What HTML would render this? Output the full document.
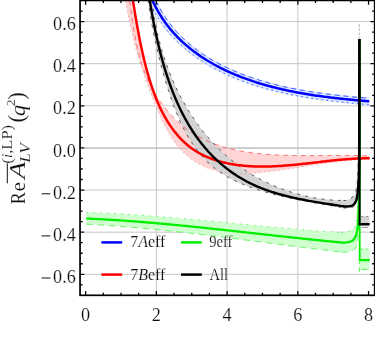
<!DOCTYPE html>
<html><head><meta charset="utf-8"><title>plot</title>
<style>
html,body{margin:0;padding:0;background:#fff;}
body{width:375px;height:360px;overflow:hidden;font-family:"Liberation Serif",serif;}
svg{display:block;will-change:transform;}
text{font-family:"Liberation Serif",serif;fill:#111;stroke:#fff;stroke-width:0.14px;}
</style></head><body>
<svg width="375" height="360" viewBox="0 0 375 360">
<defs><clipPath id="plot"><rect x="80.05" y="0.40" width="294.65" height="294.90"/></clipPath></defs>
<rect x="0" y="0" width="375" height="360" fill="#fff"/>
<line x1="156.37" y1="4.90" x2="156.37" y2="290.80" stroke="#c6c6c6" stroke-width="1"/>
<line x1="227.10" y1="4.90" x2="227.10" y2="290.80" stroke="#c6c6c6" stroke-width="1"/>
<line x1="297.83" y1="4.90" x2="297.83" y2="290.80" stroke="#c6c6c6" stroke-width="1"/>
<line x1="84.55" y1="274.30" x2="370.20" y2="274.30" stroke="#c6c6c6" stroke-width="1"/>
<line x1="84.55" y1="232.18" x2="370.20" y2="232.18" stroke="#c6c6c6" stroke-width="1"/>
<line x1="84.55" y1="190.05" x2="370.20" y2="190.05" stroke="#c6c6c6" stroke-width="1"/>
<line x1="84.55" y1="147.93" x2="370.20" y2="147.93" stroke="#c6c6c6" stroke-width="1"/>
<line x1="84.55" y1="105.81" x2="370.20" y2="105.81" stroke="#c6c6c6" stroke-width="1"/>
<line x1="84.55" y1="63.68" x2="370.20" y2="63.68" stroke="#c6c6c6" stroke-width="1"/>
<line x1="84.55" y1="21.56" x2="370.20" y2="21.56" stroke="#c6c6c6" stroke-width="1"/>
<g clip-path="url(#plot)" fill="none" stroke-linejoin="round" stroke-linecap="butt">
<path d="M86.25 212.41 L87.77 212.45 L89.29 212.50 L90.80 212.54 L92.32 212.59 L93.83 212.65 L95.35 212.70 L96.87 212.76 L98.38 212.82 L99.90 212.88 L101.41 212.94 L102.93 213.00 L104.44 213.07 L105.96 213.14 L107.47 213.21 L108.99 213.28 L110.50 213.35 L112.02 213.43 L113.53 213.50 L115.05 213.58 L116.56 213.66 L118.08 213.74 L119.59 213.83 L121.11 213.91 L122.62 214.00 L124.14 214.09 L125.65 214.18 L127.16 214.27 L128.68 214.36 L130.19 214.45 L131.71 214.55 L133.22 214.65 L134.73 214.75 L136.25 214.85 L137.76 214.95 L139.27 215.05 L140.79 215.16 L142.30 215.26 L143.81 215.37 L145.33 215.48 L146.84 215.59 L148.35 215.70 L149.86 215.81 L151.38 215.92 L152.89 216.04 L154.40 216.15 L155.91 216.27 L157.43 216.39 L158.94 216.51 L160.45 216.63 L161.96 216.75 L163.48 216.87 L164.99 216.99 L166.50 217.12 L168.01 217.24 L169.52 217.37 L171.03 217.50 L172.55 217.63 L174.06 217.75 L175.57 217.88 L177.08 218.01 L178.59 218.15 L180.10 218.28 L181.61 218.41 L183.12 218.55 L184.63 218.68 L186.15 218.81 L187.66 218.95 L189.17 219.09 L190.68 219.22 L192.19 219.36 L193.70 219.50 L195.21 219.64 L196.72 219.78 L198.23 219.92 L199.74 220.06 L201.25 220.20 L202.76 220.34 L204.27 220.49 L205.78 220.63 L207.29 220.77 L208.80 220.91 L210.31 221.06 L211.82 221.20 L213.33 221.35 L214.84 221.49 L216.35 221.64 L217.86 221.78 L219.37 221.93 L220.88 222.07 L222.39 222.22 L223.90 222.37 L225.41 222.51 L226.92 222.66 L228.43 222.81 L229.94 222.95 L231.45 223.10 L232.96 223.25 L234.47 223.39 L235.98 223.54 L237.49 223.69 L239.00 223.83 L240.51 223.98 L242.02 224.13 L243.53 224.27 L245.04 224.42 L246.55 224.57 L248.06 224.71 L249.57 224.86 L251.08 225.00 L252.59 225.15 L254.10 225.30 L255.61 225.44 L257.12 225.59 L258.63 225.73 L260.14 225.87 L261.65 226.02 L263.16 226.16 L264.67 226.31 L266.18 226.45 L267.69 226.59 L269.20 226.73 L270.71 226.87 L272.22 227.01 L273.73 227.15 L275.24 227.29 L276.75 227.43 L278.26 227.57 L279.77 227.71 L281.28 227.85 L282.79 227.98 L284.30 228.12 L285.81 228.26 L287.32 228.39 L288.83 228.53 L290.34 228.66 L291.86 228.79 L293.37 228.92 L294.88 229.05 L296.39 229.18 L297.90 229.31 L299.41 229.44 L300.92 229.57 L302.44 229.69 L303.95 229.82 L305.46 229.94 L306.97 230.07 L308.48 230.19 L309.99 230.31 L311.51 230.43 L313.02 230.55 L314.53 230.67 L316.04 230.79 L317.56 230.90 L319.07 231.02 L320.58 231.13 L322.09 231.24 L323.61 231.36 L325.12 231.47 L326.63 231.57 L328.14 231.68 L329.66 231.79 L331.17 231.89 L332.68 232.00 L334.20 232.10 L335.71 232.20 L337.23 232.30 L338.74 232.40 L340.25 232.49 L341.77 232.59 L343.28 232.68 L341.76 232.64 L343.25 232.68 L344.73 232.57 L346.22 232.27 L347.68 231.83 L349.11 231.33 L350.50 230.80 L351.87 230.08 L352.95 229.16 L353.93 228.01 L354.80 226.69 L355.47 225.28 L355.87 223.88 L356.12 222.44 L356.31 220.94 L356.46 219.41 L356.61 217.91 L356.75 216.41 L356.88 214.92 L357.00 213.43 L357.12 211.93 L357.23 210.43 L357.33 208.94 L357.44 207.44 L357.54 205.94 L357.64 204.45 L357.74 202.95 L357.85 201.45 L357.95 199.96 L358.06 198.46 L358.16 196.96 L358.25 195.46 L358.33 193.97 L358.41 192.47 L358.47 190.97 L358.52 189.47 L358.56 187.97 L358.60 186.47 L358.64 184.98 L358.68 183.48 L358.72 181.98 L358.76 180.48 L358.80 178.98 L358.84 177.48 L358.87 175.98 L358.91 174.48 L358.94 172.98 L358.97 171.48 L359.00 169.98 L359.03 168.48 L359.05 166.98 L359.08 165.48 L359.10 163.98 L359.12 162.48 L359.14 160.98 L359.15 159.48 L359.17 157.98 L359.18 156.48 L359.19 154.98 L359.19 153.48 L359.20 151.98 L359.20 150.48 L359.20 148.98 L359.20 147.48 L359.20 145.98 L359.20 144.48 L359.20 142.98 L359.20 141.48 L359.20 139.98 L359.20 138.48 L359.20 136.98 L359.20 135.48 L359.20 133.98 L359.20 132.48 L359.20 130.98 L359.20 129.48 L359.20 127.98 L359.20 126.48 L359.20 124.98 L359.20 123.48 L359.20 121.98 L359.20 120.48 L359.20 118.98 L359.20 117.48 L359.20 115.98 L359.20 114.48 L359.20 112.98 L359.20 111.48 L359.20 109.98 L359.20 108.48 L359.20 106.98 L359.20 105.48 L359.20 103.98 L359.20 102.48 L359.20 100.98 L359.20 99.48 L359.20 97.98 L359.20 96.48 L359.20 94.98 L359.20 93.48 L359.20 91.98 L359.20 90.48 L359.20 88.98 L359.20 87.48 L359.20 85.98 L359.20 84.48 L359.20 82.98 L359.20 81.48 L359.20 79.98 L359.20 78.48 L359.20 76.98 L359.20 75.48 L359.20 73.98 L359.20 72.48 L359.20 70.98 L359.20 69.48 L359.20 67.98 L359.20 66.48 L359.20 64.98 L359.20 63.48 L359.20 61.98 L359.20 60.48 L359.20 58.98 L359.20 57.48 L359.20 55.98 L359.20 54.48 L359.20 52.98 L359.20 51.48 L359.20 49.98 L359.20 48.48 L359.20 46.98 L359.20 45.48 L359.20 43.98 L359.20 42.48 L359.20 40.98 L359.20 39.48 L359.20 39.00 L359.60 39.00 L359.60 39.78 L359.60 41.29 L359.60 42.79 L359.60 44.29 L359.60 45.79 L359.60 47.29 L359.60 48.79 L359.60 50.29 L359.60 51.79 L359.60 53.29 L359.60 54.79 L359.60 56.29 L359.60 57.79 L359.60 59.29 L359.60 60.79 L359.60 62.29 L359.60 63.79 L359.60 65.29 L359.60 66.79 L359.60 68.29 L359.60 69.79 L359.60 71.29 L359.60 72.79 L359.60 74.29 L359.60 75.79 L359.60 77.29 L359.60 78.79 L359.59 80.29 L359.59 81.79 L359.59 83.29 L359.59 84.79 L359.59 86.29 L359.59 87.79 L359.59 89.29 L359.59 90.79 L359.59 92.29 L359.59 93.79 L359.59 95.29 L359.59 96.79 L359.59 98.29 L359.59 99.79 L359.59 101.29 L359.59 102.79 L359.59 104.29 L359.59 105.79 L359.58 107.29 L359.58 108.79 L359.58 110.29 L359.58 111.79 L359.58 113.29 L359.58 114.79 L359.58 116.29 L359.58 117.79 L359.58 119.29 L359.58 120.79 L359.58 122.29 L359.57 123.79 L359.57 125.29 L359.57 126.79 L359.57 128.29 L359.57 129.79 L359.57 131.29 L359.57 132.79 L359.57 134.29 L359.57 135.79 L359.56 137.29 L359.56 138.79 L359.56 140.29 L359.56 141.79 L359.56 143.29 L359.56 144.79 L359.56 146.29 L359.55 147.79 L359.55 149.29 L359.55 150.79 L359.55 152.29 L359.55 153.79 L359.55 155.29 L359.54 156.79 L359.54 158.29 L359.54 159.79 L359.54 161.29 L359.54 162.79 L359.54 164.29 L359.53 165.79 L359.53 167.29 L359.53 168.79 L359.53 170.29 L359.53 171.79 L359.52 173.29 L359.52 174.79 L359.52 176.29 L359.52 177.79 L359.52 179.29 L359.51 180.79 L359.51 182.29 L359.51 183.79 L359.51 185.29 L359.51 186.79 L359.50 188.29 L359.50 189.78 L359.50 191.28 L359.49 192.78 L359.48 194.28 L359.47 195.78 L359.46 197.29 L359.44 198.79 L359.42 200.29 L359.40 201.79 L359.38 203.29 L359.35 204.79 L359.32 206.29 L359.29 207.79 L359.26 209.29 L359.23 210.79 L359.20 212.29 L359.16 213.78 L359.12 215.28 L359.09 216.78 L359.05 218.28 L359.01 219.78 L358.96 221.28 L358.91 222.78 L358.84 224.28 L358.77 225.78 L358.68 227.28 L358.59 228.77 L358.49 230.27 L358.39 231.77 L358.28 233.26 L358.16 234.76 L358.02 236.26 L357.87 237.75 L357.69 239.24 L357.49 240.73 L357.27 242.20 L357.00 243.73 L356.66 245.26 L356.22 246.70 L355.66 247.94 L354.71 249.10 L353.45 250.09 L352.13 250.75 L350.67 251.16 L349.20 251.47 L347.72 251.77 L346.23 252.04 L344.74 252.23 L343.25 252.30 L341.76 252.20 L343.28 252.30 L341.77 252.13 L340.27 251.95 L338.77 251.78 L337.27 251.60 L335.76 251.43 L334.26 251.25 L332.76 251.07 L331.26 250.89 L329.76 250.72 L328.25 250.54 L326.75 250.35 L325.25 250.17 L323.75 249.99 L322.25 249.81 L320.75 249.63 L319.25 249.44 L317.75 249.26 L316.24 249.07 L314.74 248.89 L313.24 248.70 L311.74 248.52 L310.24 248.33 L308.74 248.14 L307.24 247.95 L305.74 247.76 L304.24 247.58 L302.74 247.39 L301.24 247.20 L299.74 247.01 L298.24 246.82 L296.74 246.62 L295.24 246.43 L293.74 246.24 L292.24 246.05 L290.74 245.86 L289.24 245.67 L287.74 245.47 L286.24 245.28 L284.74 245.09 L283.24 244.89 L281.74 244.70 L280.24 244.51 L278.74 244.31 L277.24 244.12 L275.74 243.92 L274.24 243.73 L272.74 243.54 L271.24 243.34 L269.74 243.15 L268.24 242.95 L266.74 242.76 L265.24 242.56 L263.74 242.37 L262.24 242.17 L260.74 241.98 L259.24 241.79 L257.74 241.59 L256.24 241.40 L254.74 241.20 L253.24 241.01 L251.74 240.82 L250.24 240.62 L248.74 240.43 L247.24 240.23 L245.74 240.04 L244.24 239.85 L242.74 239.66 L241.24 239.46 L239.74 239.27 L238.24 239.08 L236.74 238.89 L235.24 238.70 L233.74 238.51 L232.24 238.32 L230.74 238.13 L229.24 237.94 L227.73 237.75 L226.23 237.56 L224.73 237.37 L223.23 237.18 L221.73 236.99 L220.23 236.81 L218.73 236.62 L217.23 236.44 L215.73 236.25 L214.23 236.07 L212.73 235.88 L211.23 235.70 L209.72 235.51 L208.22 235.33 L206.72 235.15 L205.22 234.97 L203.72 234.79 L202.22 234.61 L200.71 234.43 L199.21 234.25 L197.71 234.08 L196.21 233.90 L194.71 233.72 L193.20 233.55 L191.70 233.37 L190.20 233.20 L188.70 233.03 L187.19 232.86 L185.69 232.68 L184.19 232.51 L182.69 232.35 L181.18 232.18 L179.68 232.01 L178.18 231.84 L176.67 231.68 L175.17 231.51 L173.67 231.35 L172.16 231.19 L170.66 231.03 L169.16 230.87 L167.65 230.71 L166.15 230.55 L164.64 230.39 L163.14 230.24 L161.63 230.08 L160.13 229.93 L158.62 229.78 L157.12 229.63 L155.61 229.48 L154.11 229.33 L152.60 229.18 L151.10 229.04 L149.59 228.89 L148.09 228.75 L146.58 228.61 L145.08 228.47 L143.57 228.33 L142.06 228.19 L140.56 228.05 L139.05 227.92 L137.55 227.78 L136.04 227.65 L134.53 227.52 L133.03 227.39 L131.52 227.26 L130.01 227.14 L128.50 227.01 L127.00 226.89 L125.49 226.77 L123.98 226.65 L122.47 226.53 L120.97 226.41 L119.46 226.30 L117.95 226.18 L116.44 226.07 L114.93 225.96 L113.42 225.85 L111.92 225.74 L110.41 225.64 L108.90 225.53 L107.39 225.43 L105.88 225.33 L104.37 225.24 L102.86 225.14 L101.35 225.04 L99.84 224.95 L98.33 224.86 L96.82 224.77 L95.31 224.68 L93.80 224.60 L92.29 224.52 L90.78 224.44 L89.27 224.36 L87.76 224.28 L86.25 224.20Z" fill="#d0ffd0" stroke="none"/>
<rect x="359.3" y="248.5" width="10.3" height="21.7" fill="#d0ffd0"/>
<path d="M124.00 -8.00 L124.80 -8.00 L125.60 -8.00 L126.40 -8.00 L127.20 -8.00 L128.00 -8.00 L128.80 -8.00 L129.60 -8.00 L130.40 -8.00 L131.20 -8.00 L132.00 -5.52 L132.80 -0.48 L133.60 4.54 L134.40 9.49 L135.20 14.37 L136.00 19.14 L136.80 23.78 L137.60 28.29 L138.40 32.65 L139.20 36.87 L140.00 40.94 L140.80 44.86 L141.60 48.64 L142.40 52.28 L143.20 55.78 L144.00 59.16 L144.80 62.42 L145.60 65.56 L146.40 68.60 L147.20 71.54 L148.00 74.38 L148.80 77.13 L149.60 79.79 L150.40 82.38 L151.20 84.88 L152.00 87.30 L152.80 89.63 L153.60 91.05 L154.40 92.43 L155.20 93.78 L156.00 95.09 L156.80 96.36 L157.60 97.61 L158.40 98.83 L159.20 100.01 L160.00 101.17 L160.80 102.31 L161.60 103.41 L162.40 104.50 L163.20 105.56 L164.00 106.60 L164.80 107.61 L165.60 108.61 L166.40 109.59 L167.20 110.54 L168.00 111.48 L168.80 112.40 L169.60 113.30 L170.40 114.18 L171.20 115.05 L172.00 115.90 L172.80 116.73 L173.60 117.55 L174.40 118.35 L175.20 119.14 L176.00 119.91 L176.80 120.67 L177.60 121.41 L178.40 122.14 L179.20 122.86 L180.00 123.57 L180.80 124.26 L181.60 124.93 L182.40 125.60 L183.20 126.25 L184.00 126.89 L184.80 127.53 L185.60 128.14 L186.40 128.75 L187.20 129.35 L188.00 129.93 L188.80 130.50 L189.60 131.07 L190.40 131.62 L191.20 132.16 L192.00 132.69 L192.80 133.21 L193.60 133.72 L194.40 134.22 L195.20 134.71 L196.00 135.20 L196.80 135.67 L197.60 136.13 L198.40 136.58 L199.20 137.03 L200.00 137.47 L200.80 137.89 L201.60 138.31 L202.40 138.72 L203.20 139.12 L204.00 139.51 L204.80 139.89 L205.60 140.27 L206.40 140.64 L207.20 141.00 L208.00 141.35 L208.80 141.70 L209.60 142.04 L210.40 142.37 L211.20 142.69 L212.00 143.01 L212.80 143.32 L213.60 143.63 L214.40 143.93 L215.20 144.22 L216.00 144.51 L216.80 144.79 L217.60 145.07 L218.40 145.34 L219.20 145.61 L220.00 145.86 L220.80 146.12 L221.60 146.37 L222.40 146.61 L223.20 146.85 L224.00 147.08 L224.80 147.31 L225.60 147.54 L226.40 147.76 L227.20 147.97 L228.00 148.18 L228.80 148.39 L229.60 148.59 L230.40 148.79 L231.20 148.98 L232.00 149.17 L232.80 149.35 L233.60 149.53 L234.40 149.71 L235.20 149.88 L236.00 150.05 L236.80 150.22 L237.60 150.38 L238.40 150.54 L239.20 150.69 L240.00 150.85 L240.80 150.99 L241.60 151.14 L242.40 151.28 L243.20 151.42 L244.00 151.55 L244.80 151.68 L245.60 151.81 L246.40 151.94 L247.20 152.06 L248.00 152.18 L248.80 152.30 L249.60 152.41 L250.40 152.52 L251.20 152.63 L252.00 152.74 L252.80 152.84 L253.60 152.94 L254.40 153.04 L255.20 153.13 L256.00 153.23 L256.80 153.32 L257.60 153.40 L258.40 153.49 L259.20 153.57 L260.00 153.65 L260.80 153.73 L261.60 153.81 L262.40 153.88 L263.20 153.96 L264.00 154.03 L264.80 154.09 L265.60 154.16 L266.40 154.22 L267.20 154.29 L268.00 154.35 L268.80 154.41 L269.60 154.46 L270.40 154.52 L271.20 154.57 L272.00 154.62 L272.80 154.67 L273.60 154.72 L274.40 154.77 L275.20 154.81 L276.00 154.86 L276.80 154.90 L277.60 154.94 L278.40 154.98 L279.20 155.01 L280.00 155.05 L280.80 155.08 L281.60 155.12 L282.40 155.15 L283.20 155.18 L284.00 155.21 L284.80 155.24 L285.60 155.26 L286.40 155.29 L287.20 155.31 L288.00 155.34 L288.80 155.36 L289.60 155.38 L290.40 155.40 L291.20 155.42 L292.00 155.43 L292.80 155.45 L293.60 155.47 L294.40 155.48 L295.20 155.49 L296.00 155.51 L296.80 155.52 L297.60 155.53 L298.40 155.54 L299.20 155.55 L300.00 155.55 L300.80 155.56 L301.60 155.57 L302.40 155.57 L303.20 155.58 L304.00 155.58 L304.80 155.58 L305.60 155.59 L306.40 155.59 L307.20 155.59 L308.00 155.59 L308.80 155.59 L309.60 155.59 L310.40 155.59 L311.20 155.59 L312.00 155.59 L312.80 155.58 L313.60 155.58 L314.40 155.58 L315.20 155.58 L316.00 155.57 L316.80 155.57 L317.60 155.56 L318.40 155.56 L319.20 155.55 L320.00 155.55 L320.80 155.54 L321.60 155.54 L322.40 155.53 L323.20 155.53 L324.00 155.52 L324.80 155.52 L325.60 155.51 L326.40 155.51 L327.20 155.50 L328.00 155.49 L328.80 155.49 L329.60 155.48 L330.40 155.48 L331.20 155.47 L332.00 155.47 L332.80 155.46 L333.60 155.46 L334.40 155.46 L335.20 155.45 L336.00 155.45 L336.80 155.45 L337.60 155.44 L338.40 155.44 L339.20 155.44 L340.00 155.44 L340.80 155.44 L341.60 155.44 L342.40 155.44 L343.20 155.44 L344.00 155.44 L344.80 155.44 L345.60 155.44 L346.40 155.45 L347.20 155.45 L348.00 155.46 L348.80 155.46 L349.60 155.47 L350.40 155.48 L351.20 155.48 L352.00 155.49 L352.80 155.50 L353.60 155.51 L354.40 155.52 L355.20 155.54 L356.00 155.55 L356.80 155.56 L357.60 155.58 L358.40 155.60 L359.20 155.61 L360.00 155.63 L360.80 155.65 L361.60 155.67 L362.40 155.69 L363.20 155.72 L364.00 155.74 L364.80 155.77 L365.60 155.80 L366.40 155.82 L367.20 155.85 L368.00 155.88 L368.80 155.92 L369.60 155.95 L369.60 158.98 L368.80 159.01 L368.00 159.04 L367.20 159.07 L366.40 159.11 L365.60 159.15 L364.80 159.19 L364.00 159.23 L363.20 159.27 L362.40 159.32 L361.60 159.37 L360.80 159.42 L360.00 159.47 L359.20 159.53 L358.40 159.58 L357.60 159.64 L356.80 159.70 L356.00 159.76 L355.20 159.83 L354.40 159.89 L353.60 159.96 L352.80 160.03 L352.00 160.10 L351.20 160.17 L350.40 160.25 L349.60 160.32 L348.80 160.40 L348.00 160.48 L347.20 160.56 L346.40 160.64 L345.60 160.72 L344.80 160.81 L344.00 160.90 L343.20 160.99 L342.40 161.07 L341.60 161.17 L340.80 161.26 L340.00 161.35 L339.20 161.45 L338.40 161.54 L337.60 161.64 L336.80 161.74 L336.00 161.84 L335.20 161.94 L334.40 162.04 L333.60 162.15 L332.80 162.25 L332.00 162.36 L331.20 162.46 L330.40 162.57 L329.60 162.68 L328.80 162.79 L328.00 162.90 L327.20 163.01 L326.40 163.12 L325.60 163.24 L324.80 163.35 L324.00 163.47 L323.20 163.58 L322.40 163.70 L321.60 163.82 L320.80 163.93 L320.00 164.05 L319.20 164.17 L318.40 164.29 L317.60 164.41 L316.80 164.53 L316.00 164.65 L315.20 164.77 L314.40 164.90 L313.60 165.02 L312.80 165.14 L312.00 165.26 L311.20 165.39 L310.40 165.51 L309.60 165.63 L308.80 165.76 L308.00 165.88 L307.20 166.01 L306.40 166.13 L305.60 166.26 L304.80 166.38 L304.00 166.51 L303.20 166.63 L302.40 166.76 L301.60 166.88 L300.80 167.01 L300.00 167.13 L299.20 167.25 L298.40 167.38 L297.60 167.50 L296.80 167.63 L296.00 167.75 L295.20 167.87 L294.40 168.00 L293.60 168.12 L292.80 168.24 L292.00 168.36 L291.20 168.48 L290.40 168.61 L289.60 168.73 L288.80 168.85 L288.00 168.97 L287.20 169.09 L286.40 169.20 L285.60 169.32 L284.80 169.44 L284.00 169.55 L283.20 169.67 L282.40 169.79 L281.60 169.90 L280.80 170.01 L280.00 170.13 L279.20 170.24 L278.40 170.35 L277.60 170.46 L276.80 170.57 L276.00 170.67 L275.20 170.78 L274.40 170.89 L273.60 170.99 L272.80 171.10 L272.00 171.20 L271.20 171.30 L270.40 171.40 L269.60 171.50 L268.80 171.60 L268.00 171.70 L267.20 171.79 L266.40 171.89 L265.60 171.98 L264.80 172.07 L264.00 172.16 L263.20 172.25 L262.40 172.34 L261.60 172.43 L260.80 172.51 L260.00 172.60 L259.20 172.68 L258.40 172.76 L257.60 172.84 L256.80 172.91 L256.00 172.99 L255.20 173.06 L254.40 173.12 L253.60 173.19 L252.80 173.25 L252.00 173.31 L251.20 173.37 L250.40 173.43 L249.60 173.48 L248.80 173.52 L248.00 173.57 L247.20 173.61 L246.40 173.65 L245.60 173.68 L244.80 173.71 L244.00 173.73 L243.20 173.75 L242.40 173.77 L241.60 173.78 L240.80 173.79 L240.00 173.79 L239.20 173.79 L238.40 173.78 L237.60 173.77 L236.80 173.75 L236.00 173.72 L235.20 173.69 L234.40 173.66 L233.60 173.61 L232.80 173.57 L232.00 173.51 L231.20 173.45 L230.40 173.38 L229.60 173.31 L228.80 173.23 L228.00 173.14 L227.20 173.04 L226.40 172.94 L225.60 172.83 L224.80 172.71 L224.00 172.58 L223.20 172.44 L222.40 172.30 L221.60 172.15 L220.80 171.99 L220.00 171.82 L219.20 171.64 L218.40 171.45 L217.60 171.25 L216.80 171.05 L216.00 170.84 L215.20 170.62 L214.40 170.38 L213.60 170.14 L212.80 169.89 L212.00 169.63 L211.20 169.36 L210.40 169.08 L209.60 168.79 L208.80 168.49 L208.00 168.19 L207.20 167.87 L206.40 167.54 L205.60 167.20 L204.80 166.84 L204.00 166.48 L203.20 166.11 L202.40 165.73 L201.60 165.33 L200.80 164.92 L200.00 164.50 L199.20 164.07 L198.40 163.62 L197.60 163.16 L196.80 162.69 L196.00 162.21 L195.20 161.71 L194.40 161.19 L193.60 160.66 L192.80 160.12 L192.00 159.56 L191.20 158.98 L190.40 158.39 L189.60 157.78 L188.80 157.15 L188.00 156.50 L187.20 155.84 L186.40 155.15 L185.60 154.44 L184.80 153.71 L184.00 152.96 L183.20 152.18 L182.40 151.37 L181.60 150.54 L180.80 149.69 L180.00 148.80 L179.20 147.89 L178.40 146.95 L177.60 145.98 L176.80 144.98 L176.00 143.94 L175.20 142.88 L174.40 141.78 L173.60 140.64 L172.80 139.48 L172.00 138.27 L171.20 137.03 L170.40 135.76 L169.60 134.44 L168.80 133.09 L168.00 131.70 L167.20 130.27 L166.40 128.80 L165.60 127.29 L164.80 125.74 L164.00 124.15 L163.20 122.52 L162.40 120.84 L161.60 119.14 L160.80 117.38 L160.00 115.60 L159.20 113.78 L158.40 111.92 L157.60 110.03 L156.80 108.11 L156.00 106.17 L155.20 104.20 L154.40 102.21 L153.60 100.21 L152.80 98.20 L152.00 96.17 L151.20 94.13 L150.40 92.07 L149.60 90.00 L148.80 87.90 L148.00 85.78 L147.20 83.63 L146.40 81.45 L145.60 79.24 L144.80 76.99 L144.00 74.70 L143.20 72.37 L142.40 69.98 L141.60 67.54 L140.80 65.04 L140.00 62.48 L139.20 59.85 L138.40 57.15 L137.60 54.39 L136.80 51.54 L136.00 48.62 L135.20 45.62 L134.40 42.53 L133.60 39.34 L132.80 36.05 L132.00 32.66 L131.20 29.16 L130.40 25.55 L129.60 21.81 L128.80 17.94 L128.00 13.93 L127.20 9.79 L126.40 5.49 L125.60 1.03 L124.80 -3.58 L124.00 -8.00Z" fill="#ffd4d4" stroke="none"/>
<path d="M153.40 -7.56 L153.94 -6.17 L154.48 -4.81 L155.05 -3.46 L155.62 -2.11 L156.22 -0.78 L156.83 0.55 L157.45 1.88 L158.09 3.19 L158.75 4.50 L159.42 5.80 L160.11 7.09 L160.82 8.37 L161.54 9.64 L162.27 10.91 L163.03 12.16 L163.79 13.41 L164.57 14.64 L165.37 15.87 L166.18 17.09 L167.01 18.29 L167.85 19.49 L168.71 20.68 L169.58 21.85 L170.46 23.02 L171.36 24.17 L172.28 25.32 L173.20 26.45 L174.14 27.58 L175.09 28.69 L176.06 29.79 L177.04 30.88 L178.03 31.96 L179.03 33.03 L180.05 34.09 L181.08 35.13 L182.12 36.17 L183.17 37.19 L184.23 38.20 L185.31 39.21 L186.39 40.20 L187.49 41.17 L188.60 42.14 L189.71 43.10 L190.84 44.04 L191.98 44.97 L193.12 45.90 L194.28 46.81 L195.44 47.71 L196.62 48.60 L197.80 49.47 L198.99 50.34 L200.19 51.19 L201.40 52.04 L202.62 52.87 L203.84 53.69 L205.08 54.51 L206.32 55.31 L207.56 56.10 L208.82 56.88 L210.08 57.65 L211.35 58.41 L212.62 59.15 L213.90 59.89 L215.19 60.62 L216.48 61.34 L217.78 62.05 L219.09 62.75 L220.40 63.43 L221.72 64.11 L223.04 64.78 L224.37 65.44 L225.70 66.09 L227.04 66.73 L228.38 67.36 L229.72 67.98 L231.08 68.59 L232.43 69.20 L233.79 69.79 L235.16 70.38 L236.53 70.96 L237.90 71.52 L239.27 72.08 L240.65 72.63 L242.04 73.18 L243.43 73.71 L244.82 74.24 L246.21 74.75 L247.61 75.26 L249.01 75.77 L250.41 76.26 L251.82 76.74 L253.23 77.22 L254.64 77.69 L256.06 78.16 L257.48 78.61 L258.90 79.06 L260.32 79.50 L261.75 79.93 L263.18 80.36 L264.61 80.78 L266.04 81.19 L267.48 81.59 L268.91 81.99 L270.35 82.38 L271.80 82.76 L273.24 83.14 L274.69 83.51 L276.13 83.88 L277.58 84.23 L279.03 84.59 L280.49 84.93 L281.94 85.27 L283.40 85.60 L284.86 85.93 L286.32 86.25 L287.78 86.57 L289.24 86.88 L290.71 87.18 L292.17 87.48 L293.64 87.77 L295.11 88.06 L296.58 88.34 L298.05 88.62 L299.52 88.89 L300.99 89.16 L302.47 89.42 L303.94 89.68 L305.42 89.93 L306.90 90.18 L308.37 90.42 L309.85 90.66 L311.33 90.89 L312.81 91.12 L314.30 91.35 L315.78 91.57 L317.26 91.79 L318.75 92.00 L320.23 92.21 L321.72 92.41 L323.21 92.62 L324.69 92.81 L326.18 93.01 L327.67 93.20 L329.16 93.39 L330.65 93.57 L332.14 93.75 L333.63 93.93 L335.13 94.10 L336.62 94.27 L338.11 94.44 L339.61 94.61 L341.10 94.77 L342.60 94.93 L344.09 95.09 L345.59 95.24 L347.08 95.39 L348.58 95.54 L350.08 95.69 L351.58 95.84 L353.07 95.98 L354.57 96.12 L356.07 96.26 L357.57 96.40 L359.07 96.53 L360.57 96.67 L362.07 96.80 L363.57 96.93 L365.07 97.06 L366.58 97.19 L368.08 97.32 L369.58 97.44 L368.90 105.52 L367.40 105.39 L365.89 105.26 L364.38 105.13 L362.87 105.00 L361.36 104.87 L359.85 104.74 L358.34 104.60 L356.84 104.46 L355.33 104.33 L353.82 104.19 L352.31 104.04 L350.80 103.90 L349.29 103.75 L347.78 103.60 L346.27 103.45 L344.76 103.30 L343.25 103.14 L341.74 102.98 L340.23 102.82 L338.72 102.66 L337.21 102.49 L335.71 102.32 L334.20 102.15 L332.69 101.97 L331.18 101.79 L329.67 101.61 L328.16 101.42 L326.65 101.23 L325.14 101.04 L323.64 100.84 L322.13 100.64 L320.62 100.44 L319.12 100.23 L317.61 100.02 L316.10 99.80 L314.60 99.58 L313.09 99.36 L311.58 99.13 L310.08 98.90 L308.58 98.66 L307.07 98.42 L305.57 98.17 L304.07 97.92 L302.56 97.66 L301.06 97.40 L299.56 97.13 L298.06 96.86 L296.56 96.58 L295.06 96.30 L293.56 96.01 L292.07 95.72 L290.57 95.42 L289.07 95.11 L287.58 94.80 L286.09 94.49 L284.59 94.17 L283.10 93.84 L281.61 93.50 L280.12 93.16 L278.63 92.81 L277.15 92.46 L275.66 92.10 L274.17 91.74 L272.69 91.36 L271.21 90.98 L269.73 90.60 L268.25 90.20 L266.77 89.80 L265.30 89.39 L263.83 88.98 L262.35 88.56 L260.88 88.13 L259.42 87.69 L257.95 87.24 L256.49 86.79 L255.02 86.33 L253.56 85.86 L252.11 85.39 L250.65 84.90 L249.20 84.41 L247.75 83.91 L246.30 83.40 L244.86 82.88 L243.41 82.36 L241.98 81.82 L240.54 81.28 L239.11 80.73 L237.67 80.17 L236.25 79.60 L234.82 79.02 L233.40 78.43 L231.99 77.83 L230.57 77.23 L229.16 76.61 L227.76 75.98 L226.36 75.35 L224.96 74.70 L223.56 74.05 L222.17 73.38 L220.79 72.71 L219.41 72.02 L218.03 71.33 L216.66 70.62 L215.30 69.90 L213.94 69.17 L212.58 68.44 L211.23 67.69 L209.89 66.93 L208.55 66.16 L207.22 65.37 L205.89 64.58 L204.57 63.77 L203.26 62.96 L201.95 62.13 L200.65 61.29 L199.36 60.44 L198.07 59.58 L196.80 58.70 L195.53 57.81 L194.26 56.91 L193.01 56.00 L191.76 55.08 L190.53 54.14 L189.30 53.19 L188.08 52.23 L186.87 51.26 L185.67 50.28 L184.48 49.28 L183.30 48.27 L182.13 47.24 L180.97 46.21 L179.82 45.16 L178.68 44.10 L177.55 43.03 L176.44 41.94 L175.33 40.84 L174.24 39.73 L173.16 38.61 L172.10 37.47 L171.04 36.33 L170.00 35.17 L168.97 33.99 L167.96 32.81 L166.96 31.61 L165.97 30.40 L165.00 29.18 L164.04 27.95 L163.10 26.71 L162.17 25.45 L161.26 24.19 L160.36 22.91 L159.47 21.62 L158.61 20.32 L157.76 19.01 L156.92 17.69 L156.10 16.36 L155.30 15.02 L154.51 13.67 L153.74 12.32 L152.99 10.95 L152.26 9.57 L151.54 8.18 L150.84 6.79 L150.15 5.38 L149.48 3.97 L148.83 2.55 L148.20 1.13 L147.58 -0.31 L146.99 -1.75 L146.40 -3.20 L145.85 -4.63Z" fill="#dbe7ff" stroke="none"/>
<path d="M151.36 -7.94 L151.47 -6.43 L151.58 -4.92 L151.71 -3.42 L151.84 -1.91 L151.99 -0.41 L152.14 1.10 L152.30 2.60 L152.47 4.10 L152.65 5.60 L152.83 7.10 L153.02 8.60 L153.23 10.10 L153.44 11.59 L153.66 13.09 L153.88 14.58 L154.12 16.07 L154.36 17.57 L154.61 19.06 L154.87 20.54 L155.14 22.03 L155.42 23.52 L155.70 25.00 L155.99 26.48 L156.29 27.96 L156.60 29.44 L156.92 30.92 L157.24 32.40 L157.58 33.87 L157.92 35.34 L158.27 36.81 L158.62 38.28 L158.99 39.74 L159.36 41.21 L159.75 42.67 L160.14 44.13 L160.53 45.59 L160.94 47.04 L161.36 48.50 L161.78 49.95 L162.21 51.40 L162.65 52.84 L163.09 54.28 L163.55 55.73 L164.01 57.16 L164.48 58.60 L164.96 60.03 L165.45 61.46 L165.95 62.89 L166.45 64.31 L166.96 65.73 L167.48 67.15 L168.01 68.57 L168.55 69.98 L169.10 71.39 L169.65 72.80 L170.21 74.20 L170.78 75.60 L171.36 76.99 L171.95 78.39 L172.54 79.78 L173.14 81.16 L173.76 82.54 L174.38 83.92 L175.00 85.29 L175.64 86.66 L176.29 88.03 L176.94 89.39 L177.60 90.75 L178.27 92.11 L178.95 93.46 L179.64 94.80 L180.33 96.14 L181.04 97.48 L181.75 98.81 L182.47 100.14 L183.20 101.46 L183.94 102.78 L184.69 104.09 L185.44 105.40 L186.21 106.71 L186.98 108.00 L187.76 109.30 L188.55 110.59 L189.35 111.87 L190.16 113.15 L190.97 114.42 L191.80 115.68 L192.63 116.94 L193.47 118.20 L194.32 119.45 L195.18 120.69 L196.05 121.93 L196.93 123.16 L197.81 124.38 L198.71 125.60 L199.61 126.81 L200.52 128.01 L201.44 129.21 L202.37 130.40 L203.31 131.59 L204.26 132.76 L205.21 133.93 L206.18 135.10 L207.15 136.25 L208.14 137.40 L209.13 138.54 L210.13 139.68 L211.13 140.80 L212.15 141.92 L213.18 143.03 L214.21 144.13 L215.26 145.22 L216.31 146.31 L217.37 147.38 L218.44 148.45 L219.51 149.51 L220.60 150.56 L221.70 151.60 L222.80 152.63 L223.91 153.65 L225.03 154.67 L226.16 155.67 L227.30 156.67 L228.44 157.65 L229.60 158.63 L230.76 159.59 L231.93 160.55 L233.11 161.49 L234.30 162.43 L235.49 163.35 L236.69 164.27 L237.91 165.17 L239.12 166.06 L240.35 166.95 L241.58 167.82 L242.83 168.68 L244.08 169.53 L245.33 170.37 L246.60 171.20 L247.87 172.02 L249.14 172.82 L250.43 173.62 L251.72 174.40 L253.02 175.18 L254.32 175.94 L255.63 176.69 L256.95 177.43 L258.27 178.16 L259.60 178.88 L260.93 179.59 L262.27 180.29 L263.62 180.97 L264.97 181.65 L266.33 182.31 L267.69 182.96 L269.06 183.60 L270.44 184.23 L271.81 184.85 L273.20 185.46 L274.59 186.05 L275.98 186.64 L277.38 187.21 L278.78 187.77 L280.19 188.32 L281.60 188.86 L283.02 189.38 L284.44 189.90 L285.86 190.40 L287.29 190.89 L288.73 191.37 L290.16 191.84 L291.60 192.29 L293.05 192.74 L294.50 193.17 L295.95 193.59 L297.40 194.00 L298.86 194.39 L300.32 194.78 L301.79 195.15 L303.25 195.51 L304.72 195.86 L306.20 196.19 L307.67 196.52 L309.15 196.83 L310.63 197.13 L312.12 197.41 L313.60 197.69 L315.09 197.95 L316.58 198.20 L318.07 198.43 L319.57 198.66 L321.06 198.87 L322.56 199.07 L324.06 199.25 L325.56 199.42 L327.06 199.58 L328.57 199.73 L330.07 199.87 L331.58 199.99 L333.09 200.09 L334.59 200.19 L336.10 200.27 L337.61 200.34 L339.12 200.40 L340.63 200.44 L342.14 200.47 L343.65 200.48 L345.16 200.49 L343.66 200.48 L345.14 200.49 L346.60 200.29 L348.05 199.77 L349.44 199.07 L350.74 198.33 L352.02 197.51 L353.22 196.50 L354.15 195.38 L354.80 194.13 L355.34 192.73 L355.80 191.24 L356.16 189.73 L356.43 188.26 L356.67 186.79 L356.89 185.31 L357.09 183.82 L357.26 182.32 L357.40 180.82 L357.52 179.32 L357.61 177.82 L357.69 176.32 L357.77 174.83 L357.84 173.33 L357.91 171.84 L357.98 170.34 L358.04 168.84 L358.10 167.34 L358.16 165.84 L358.21 164.34 L358.26 162.84 L358.30 161.34 L358.34 159.84 L358.38 158.34 L358.41 156.83 L358.44 155.33 L358.46 153.83 L358.48 152.33 L358.49 150.83 L358.50 149.33 L358.51 147.83 L358.52 146.33 L358.53 144.83 L358.54 143.33 L358.55 141.84 L358.55 140.34 L358.56 138.84 L358.57 137.34 L358.58 135.84 L358.59 134.34 L358.59 132.84 L358.60 131.34 L358.61 129.84 L358.61 128.34 L358.62 126.84 L358.63 125.34 L358.63 123.84 L358.64 122.34 L358.65 120.84 L358.65 119.34 L358.66 117.84 L358.66 116.34 L358.67 114.84 L358.68 113.34 L358.68 111.84 L358.69 110.34 L358.69 108.84 L358.70 107.34 L358.70 105.84 L358.71 104.34 L358.71 102.84 L358.71 101.34 L358.72 99.84 L358.72 98.34 L358.73 96.84 L358.73 95.34 L358.73 93.84 L358.74 92.34 L358.74 90.84 L358.75 89.34 L358.75 87.84 L358.75 86.34 L358.76 84.84 L358.76 83.34 L358.76 81.84 L358.76 80.34 L358.77 78.84 L358.77 77.34 L358.77 75.84 L358.77 74.34 L358.78 72.84 L358.78 71.34 L358.78 69.84 L358.78 68.34 L358.78 66.84 L358.79 65.34 L358.79 63.84 L358.79 62.34 L358.79 60.84 L358.79 59.34 L358.79 57.84 L358.79 56.34 L358.80 54.84 L358.80 53.34 L358.80 51.84 L358.80 50.34 L358.80 48.84 L358.80 47.34 L358.80 45.84 L358.80 44.34 L358.80 42.83 L358.80 41.33 L358.80 39.83 L358.80 39.00 L359.80 39.00 L359.80 39.69 L359.80 41.19 L359.80 42.69 L359.80 44.19 L359.80 45.69 L359.80 47.19 L359.80 48.69 L359.80 50.19 L359.80 51.69 L359.80 53.19 L359.80 54.69 L359.80 56.19 L359.80 57.69 L359.79 59.19 L359.79 60.69 L359.79 62.19 L359.79 63.69 L359.79 65.19 L359.79 66.69 L359.79 68.19 L359.79 69.69 L359.79 71.19 L359.78 72.69 L359.78 74.19 L359.78 75.69 L359.78 77.19 L359.78 78.69 L359.78 80.19 L359.77 81.69 L359.77 83.19 L359.77 84.69 L359.77 86.19 L359.77 87.69 L359.76 89.19 L359.76 90.69 L359.76 92.19 L359.76 93.69 L359.75 95.19 L359.75 96.69 L359.75 98.19 L359.74 99.69 L359.74 101.19 L359.74 102.69 L359.74 104.19 L359.73 105.69 L359.73 107.19 L359.73 108.69 L359.72 110.19 L359.72 111.69 L359.72 113.19 L359.71 114.69 L359.71 116.19 L359.70 117.69 L359.70 119.19 L359.70 120.69 L359.69 122.19 L359.69 123.69 L359.68 125.19 L359.68 126.69 L359.68 128.19 L359.67 129.69 L359.67 131.19 L359.66 132.69 L359.66 134.19 L359.65 135.69 L359.65 137.19 L359.64 138.69 L359.64 140.19 L359.63 141.69 L359.63 143.19 L359.62 144.69 L359.61 146.19 L359.61 147.69 L359.60 149.19 L359.60 150.69 L359.59 152.19 L359.58 153.69 L359.56 155.19 L359.55 156.69 L359.53 158.19 L359.51 159.69 L359.48 161.19 L359.46 162.69 L359.43 164.19 L359.40 165.69 L359.37 167.19 L359.33 168.69 L359.30 170.19 L359.26 171.69 L359.22 173.19 L359.17 174.69 L359.13 176.19 L359.08 177.69 L359.03 179.18 L358.98 180.68 L358.93 182.18 L358.87 183.68 L358.81 185.18 L358.72 186.68 L358.63 188.18 L358.51 189.68 L358.39 191.17 L358.25 192.67 L358.09 194.15 L357.92 195.64 L357.71 197.14 L357.44 198.63 L357.12 200.10 L356.74 201.54 L356.27 202.97 L355.62 204.44 L354.81 205.68 L353.77 206.55 L352.37 207.28 L350.88 207.69 L349.42 207.84 L347.92 207.95 L346.40 208.02 L344.89 208.04 L343.41 207.88 L344.91 208.04 L343.42 207.78 L341.94 207.52 L340.45 207.26 L338.96 207.01 L337.48 206.75 L335.99 206.50 L334.50 206.24 L333.02 205.99 L331.53 205.74 L330.04 205.49 L328.55 205.23 L327.06 204.98 L325.58 204.73 L324.09 204.48 L322.60 204.22 L321.11 203.97 L319.63 203.71 L318.14 203.46 L316.65 203.20 L315.17 202.94 L313.68 202.68 L312.19 202.42 L310.71 202.15 L309.22 201.89 L307.74 201.62 L306.26 201.34 L304.77 201.07 L303.29 200.79 L301.81 200.51 L300.32 200.23 L298.84 199.94 L297.36 199.65 L295.88 199.35 L294.40 199.05 L292.93 198.75 L291.45 198.44 L289.97 198.12 L288.50 197.81 L287.02 197.48 L285.55 197.16 L284.08 196.82 L282.61 196.49 L281.14 196.14 L279.67 195.79 L278.20 195.44 L276.74 195.08 L275.28 194.71 L273.81 194.34 L272.35 193.96 L270.89 193.57 L269.44 193.18 L267.98 192.78 L266.53 192.37 L265.08 191.95 L263.63 191.53 L262.19 191.10 L260.74 190.66 L259.30 190.21 L257.87 189.75 L256.43 189.28 L255.00 188.80 L253.57 188.31 L252.15 187.82 L250.73 187.31 L249.31 186.79 L247.90 186.26 L246.49 185.71 L245.09 185.16 L243.69 184.59 L242.30 184.01 L240.91 183.42 L239.53 182.82 L238.15 182.20 L236.78 181.56 L235.42 180.92 L234.06 180.25 L232.71 179.58 L231.37 178.89 L230.04 178.18 L228.71 177.46 L227.40 176.72 L226.09 175.96 L224.80 175.19 L223.51 174.40 L222.24 173.59 L220.97 172.77 L219.72 171.92 L218.48 171.06 L217.26 170.18 L216.04 169.28 L214.85 168.36 L213.66 167.43 L212.50 166.47 L211.35 165.49 L210.21 164.50 L209.09 163.49 L207.99 162.45 L206.91 161.41 L205.84 160.34 L204.79 159.26 L203.75 158.16 L202.73 157.05 L201.73 155.92 L200.75 154.78 L199.78 153.62 L198.82 152.45 L197.89 151.27 L196.96 150.07 L196.06 148.87 L195.17 147.65 L194.29 146.42 L193.43 145.18 L192.58 143.93 L191.75 142.68 L190.93 141.41 L190.13 140.13 L189.34 138.84 L188.56 137.55 L187.80 136.25 L187.05 134.94 L186.31 133.62 L185.59 132.30 L184.87 130.97 L184.17 129.63 L183.48 128.29 L182.81 126.94 L182.14 125.59 L181.48 124.23 L180.84 122.87 L180.20 121.50 L179.58 120.12 L178.97 118.74 L178.36 117.36 L177.77 115.98 L177.18 114.59 L176.60 113.19 L176.04 111.79 L175.48 110.39 L174.93 108.99 L174.38 107.58 L173.85 106.17 L173.32 104.75 L172.80 103.34 L172.29 101.92 L171.78 100.50 L171.28 99.07 L170.79 97.65 L170.30 96.22 L169.82 94.79 L169.34 93.36 L168.88 91.92 L168.41 90.49 L167.95 89.05 L167.50 87.61 L167.05 86.17 L166.61 84.73 L166.17 83.28 L165.73 81.84 L165.30 80.39 L164.87 78.95 L164.45 77.50 L164.03 76.05 L163.61 74.60 L163.20 73.15 L162.79 71.69 L162.39 70.24 L161.99 68.79 L161.59 67.33 L161.20 65.87 L160.81 64.41 L160.43 62.96 L160.05 61.50 L159.67 60.03 L159.30 58.57 L158.93 57.11 L158.57 55.64 L158.21 54.18 L157.85 52.71 L157.50 51.24 L157.16 49.77 L156.82 48.30 L156.48 46.83 L156.15 45.36 L155.82 43.89 L155.50 42.42 L155.18 40.94 L154.86 39.47 L154.55 37.99 L154.25 36.51 L153.94 35.03 L153.65 33.55 L153.35 32.07 L153.07 30.59 L152.78 29.11 L152.51 27.63 L152.23 26.14 L151.96 24.66 L151.70 23.17 L151.43 21.69 L151.18 20.20 L150.93 18.71 L150.68 17.22 L150.44 15.73 L150.20 14.24 L149.96 12.75 L149.73 11.26 L149.51 9.77 L149.29 8.28 L149.07 6.78 L148.86 5.29 L148.65 3.80 L148.44 2.30 L148.24 0.81 L148.05 -0.69 L147.85 -2.19 L147.67 -3.68 L147.48 -5.18 L147.30 -6.68 L147.13 -8.18Z" fill="#d3d3d3" stroke="none"/>
<rect x="360.4" y="216.2" width="9.0" height="8" fill="#d3d3d3"/>
<line x1="84.55" y1="148.18" x2="370.20" y2="148.18" stroke="#bdbdbd" stroke-width="1"/>
<path d="M86.25 212.41 L87.77 212.45 L89.29 212.50 L90.80 212.54 L92.32 212.59 L93.83 212.65 L95.35 212.70 L96.87 212.76 L98.38 212.82 L99.90 212.88 L101.41 212.94 L102.93 213.00 L104.44 213.07 L105.96 213.14 L107.47 213.21 L108.99 213.28 L110.50 213.35 L112.02 213.43 L113.53 213.50 L115.05 213.58 L116.56 213.66 L118.08 213.74 L119.59 213.83 L121.11 213.91 L122.62 214.00 L124.14 214.09 L125.65 214.18 L127.16 214.27 L128.68 214.36 L130.19 214.45 L131.71 214.55 L133.22 214.65 L134.73 214.75 L136.25 214.85 L137.76 214.95 L139.27 215.05 L140.79 215.16 L142.30 215.26 L143.81 215.37 L145.33 215.48 L146.84 215.59 L148.35 215.70 L149.86 215.81 L151.38 215.92 L152.89 216.04 L154.40 216.15 L155.91 216.27 L157.43 216.39 L158.94 216.51 L160.45 216.63 L161.96 216.75 L163.48 216.87 L164.99 216.99 L166.50 217.12 L168.01 217.24 L169.52 217.37 L171.03 217.50 L172.55 217.63 L174.06 217.75 L175.57 217.88 L177.08 218.01 L178.59 218.15 L180.10 218.28 L181.61 218.41 L183.12 218.55 L184.63 218.68 L186.15 218.81 L187.66 218.95 L189.17 219.09 L190.68 219.22 L192.19 219.36 L193.70 219.50 L195.21 219.64 L196.72 219.78 L198.23 219.92 L199.74 220.06 L201.25 220.20 L202.76 220.34 L204.27 220.49 L205.78 220.63 L207.29 220.77 L208.80 220.91 L210.31 221.06 L211.82 221.20 L213.33 221.35 L214.84 221.49 L216.35 221.64 L217.86 221.78 L219.37 221.93 L220.88 222.07 L222.39 222.22 L223.90 222.37 L225.41 222.51 L226.92 222.66 L228.43 222.81 L229.94 222.95 L231.45 223.10 L232.96 223.25 L234.47 223.39 L235.98 223.54 L237.49 223.69 L239.00 223.83 L240.51 223.98 L242.02 224.13 L243.53 224.27 L245.04 224.42 L246.55 224.57 L248.06 224.71 L249.57 224.86 L251.08 225.00 L252.59 225.15 L254.10 225.30 L255.61 225.44 L257.12 225.59 L258.63 225.73 L260.14 225.87 L261.65 226.02 L263.16 226.16 L264.67 226.31 L266.18 226.45 L267.69 226.59 L269.20 226.73 L270.71 226.87 L272.22 227.01 L273.73 227.15 L275.24 227.29 L276.75 227.43 L278.26 227.57 L279.77 227.71 L281.28 227.85 L282.79 227.98 L284.30 228.12 L285.81 228.26 L287.32 228.39 L288.83 228.53 L290.34 228.66 L291.86 228.79 L293.37 228.92 L294.88 229.05 L296.39 229.18 L297.90 229.31 L299.41 229.44 L300.92 229.57 L302.44 229.69 L303.95 229.82 L305.46 229.94 L306.97 230.07 L308.48 230.19 L309.99 230.31 L311.51 230.43 L313.02 230.55 L314.53 230.67 L316.04 230.79 L317.56 230.90 L319.07 231.02 L320.58 231.13 L322.09 231.24 L323.61 231.36 L325.12 231.47 L326.63 231.57 L328.14 231.68 L329.66 231.79 L331.17 231.89 L332.68 232.00 L334.20 232.10 L335.71 232.20 L337.23 232.30 L338.74 232.40 L340.25 232.49 L341.77 232.59 L343.28 232.68 L341.76 232.64 L343.25 232.68 L344.73 232.57 L346.22 232.27 L347.68 231.83 L349.11 231.33 L350.50 230.80 L351.87 230.08 L352.95 229.16 L353.93 228.01 L354.80 226.69 L355.47 225.28 L355.87 223.88 L356.12 222.44 L356.31 220.94 L356.46 219.41 L356.61 217.91 L356.75 216.41 L356.88 214.92 L357.00 213.43 L357.12 211.93 L357.23 210.43 L357.33 208.94 L357.44 207.44 L357.54 205.94 L357.64 204.45 L357.74 202.95 L357.85 201.45 L357.95 199.96 L358.06 198.46 L358.16 196.96 L358.25 195.46 L358.33 193.97 L358.41 192.47 L358.47 190.97 L358.52 189.47 L358.56 187.97 L358.60 186.47 L358.64 184.98 L358.68 183.48 L358.72 181.98 L358.76 180.48 L358.80 178.98 L358.84 177.48 L358.87 175.98 L358.91 174.48 L358.94 172.98 L358.97 171.48 L359.00 169.98 L359.03 168.48 L359.05 166.98 L359.08 165.48 L359.10 163.98 L359.12 162.48 L359.14 160.98 L359.15 159.48 L359.17 157.98 L359.18 156.48 L359.19 154.98 L359.19 153.48 L359.20 151.98 L359.20 150.48 L359.20 148.98 L359.20 147.48 L359.20 145.98 L359.20 144.48 L359.20 142.98 L359.20 141.48 L359.20 139.98 L359.20 138.48 L359.20 136.98 L359.20 135.48 L359.20 133.98 L359.20 132.48 L359.20 130.98 L359.20 129.48 L359.20 127.98 L359.20 126.48 L359.20 124.98 L359.20 123.48 L359.20 121.98 L359.20 120.48 L359.20 118.98 L359.20 117.48 L359.20 115.98 L359.20 114.48 L359.20 112.98 L359.20 111.48 L359.20 109.98 L359.20 108.48 L359.20 106.98 L359.20 105.48 L359.20 103.98 L359.20 102.48 L359.20 100.98 L359.20 99.48 L359.20 97.98 L359.20 96.48 L359.20 94.98 L359.20 93.48 L359.20 91.98 L359.20 90.48 L359.20 88.98 L359.20 87.48 L359.20 85.98 L359.20 84.48 L359.20 82.98 L359.20 81.48 L359.20 79.98 L359.20 78.48 L359.20 76.98 L359.20 75.48 L359.20 73.98 L359.20 72.48 L359.20 70.98 L359.20 69.48 L359.20 67.98 L359.20 66.48 L359.20 64.98 L359.20 63.48 L359.20 61.98 L359.20 60.48 L359.20 58.98 L359.20 57.48 L359.20 55.98 L359.20 54.48 L359.20 52.98 L359.20 51.48 L359.20 49.98 L359.20 48.48 L359.20 46.98 L359.20 45.48 L359.20 43.98 L359.20 42.48 L359.20 40.98 L359.20 39.48 L359.20 39.00" stroke="#33ee33" stroke-width="0.7" stroke-dasharray="1.6 5.4"/>
<path d="M86.25 224.20 L87.76 224.28 L89.27 224.36 L90.78 224.44 L92.29 224.52 L93.80 224.60 L95.31 224.68 L96.82 224.77 L98.33 224.86 L99.84 224.95 L101.35 225.04 L102.86 225.14 L104.37 225.24 L105.88 225.33 L107.39 225.43 L108.90 225.53 L110.41 225.64 L111.92 225.74 L113.42 225.85 L114.93 225.96 L116.44 226.07 L117.95 226.18 L119.46 226.30 L120.97 226.41 L122.47 226.53 L123.98 226.65 L125.49 226.77 L127.00 226.89 L128.50 227.01 L130.01 227.14 L131.52 227.26 L133.03 227.39 L134.53 227.52 L136.04 227.65 L137.55 227.78 L139.05 227.92 L140.56 228.05 L142.06 228.19 L143.57 228.33 L145.08 228.47 L146.58 228.61 L148.09 228.75 L149.59 228.89 L151.10 229.04 L152.60 229.18 L154.11 229.33 L155.61 229.48 L157.12 229.63 L158.62 229.78 L160.13 229.93 L161.63 230.08 L163.14 230.24 L164.64 230.39 L166.15 230.55 L167.65 230.71 L169.16 230.87 L170.66 231.03 L172.16 231.19 L173.67 231.35 L175.17 231.51 L176.67 231.68 L178.18 231.84 L179.68 232.01 L181.18 232.18 L182.69 232.35 L184.19 232.51 L185.69 232.68 L187.19 232.86 L188.70 233.03 L190.20 233.20 L191.70 233.37 L193.20 233.55 L194.71 233.72 L196.21 233.90 L197.71 234.08 L199.21 234.25 L200.71 234.43 L202.22 234.61 L203.72 234.79 L205.22 234.97 L206.72 235.15 L208.22 235.33 L209.72 235.51 L211.23 235.70 L212.73 235.88 L214.23 236.07 L215.73 236.25 L217.23 236.44 L218.73 236.62 L220.23 236.81 L221.73 236.99 L223.23 237.18 L224.73 237.37 L226.23 237.56 L227.73 237.75 L229.24 237.94 L230.74 238.13 L232.24 238.32 L233.74 238.51 L235.24 238.70 L236.74 238.89 L238.24 239.08 L239.74 239.27 L241.24 239.46 L242.74 239.66 L244.24 239.85 L245.74 240.04 L247.24 240.23 L248.74 240.43 L250.24 240.62 L251.74 240.82 L253.24 241.01 L254.74 241.20 L256.24 241.40 L257.74 241.59 L259.24 241.79 L260.74 241.98 L262.24 242.17 L263.74 242.37 L265.24 242.56 L266.74 242.76 L268.24 242.95 L269.74 243.15 L271.24 243.34 L272.74 243.54 L274.24 243.73 L275.74 243.92 L277.24 244.12 L278.74 244.31 L280.24 244.51 L281.74 244.70 L283.24 244.89 L284.74 245.09 L286.24 245.28 L287.74 245.47 L289.24 245.67 L290.74 245.86 L292.24 246.05 L293.74 246.24 L295.24 246.43 L296.74 246.62 L298.24 246.82 L299.74 247.01 L301.24 247.20 L302.74 247.39 L304.24 247.58 L305.74 247.76 L307.24 247.95 L308.74 248.14 L310.24 248.33 L311.74 248.52 L313.24 248.70 L314.74 248.89 L316.24 249.07 L317.75 249.26 L319.25 249.44 L320.75 249.63 L322.25 249.81 L323.75 249.99 L325.25 250.17 L326.75 250.35 L328.25 250.54 L329.76 250.72 L331.26 250.89 L332.76 251.07 L334.26 251.25 L335.76 251.43 L337.27 251.60 L338.77 251.78 L340.27 251.95 L341.77 252.13 L343.28 252.30 L341.76 252.20 L343.25 252.30 L344.74 252.23 L346.23 252.04 L347.72 251.77 L349.20 251.47 L350.67 251.16 L352.13 250.75 L353.45 250.09 L354.71 249.10 L355.66 247.94 L356.22 246.70 L356.66 245.26 L357.00 243.73 L357.27 242.20 L357.49 240.73 L357.69 239.24 L357.87 237.75 L358.02 236.26 L358.16 234.76 L358.28 233.26 L358.39 231.77 L358.49 230.27 L358.59 228.77 L358.68 227.28 L358.77 225.78 L358.84 224.28 L358.91 222.78 L358.96 221.28 L359.01 219.78 L359.05 218.28 L359.09 216.78 L359.12 215.28 L359.16 213.78 L359.20 212.29 L359.23 210.79 L359.26 209.29 L359.29 207.79 L359.32 206.29 L359.35 204.79 L359.38 203.29 L359.40 201.79 L359.42 200.29 L359.44 198.79 L359.46 197.29 L359.47 195.78 L359.48 194.28 L359.49 192.78 L359.50 191.28 L359.50 189.78 L359.50 188.29 L359.51 186.79 L359.51 185.29 L359.51 183.79 L359.51 182.29 L359.51 180.79 L359.52 179.29 L359.52 177.79 L359.52 176.29 L359.52 174.79 L359.52 173.29 L359.53 171.79 L359.53 170.29 L359.53 168.79 L359.53 167.29 L359.53 165.79 L359.54 164.29 L359.54 162.79 L359.54 161.29 L359.54 159.79 L359.54 158.29 L359.54 156.79 L359.55 155.29 L359.55 153.79 L359.55 152.29 L359.55 150.79 L359.55 149.29 L359.55 147.79 L359.56 146.29 L359.56 144.79 L359.56 143.29 L359.56 141.79 L359.56 140.29 L359.56 138.79 L359.56 137.29 L359.57 135.79 L359.57 134.29 L359.57 132.79 L359.57 131.29 L359.57 129.79 L359.57 128.29 L359.57 126.79 L359.57 125.29 L359.57 123.79 L359.58 122.29 L359.58 120.79 L359.58 119.29 L359.58 117.79 L359.58 116.29 L359.58 114.79 L359.58 113.29 L359.58 111.79 L359.58 110.29 L359.58 108.79 L359.58 107.29 L359.59 105.79 L359.59 104.29 L359.59 102.79 L359.59 101.29 L359.59 99.79 L359.59 98.29 L359.59 96.79 L359.59 95.29 L359.59 93.79 L359.59 92.29 L359.59 90.79 L359.59 89.29 L359.59 87.79 L359.59 86.29 L359.59 84.79 L359.59 83.29 L359.59 81.79 L359.59 80.29 L359.60 78.79 L359.60 77.29 L359.60 75.79 L359.60 74.29 L359.60 72.79 L359.60 71.29 L359.60 69.79 L359.60 68.29 L359.60 66.79 L359.60 65.29 L359.60 63.79 L359.60 62.29 L359.60 60.79 L359.60 59.29 L359.60 57.79 L359.60 56.29 L359.60 54.79 L359.60 53.29 L359.60 51.79 L359.60 50.29 L359.60 48.79 L359.60 47.29 L359.60 45.79 L359.60 44.29 L359.60 42.79 L359.60 41.29 L359.60 39.78 L359.60 39.00" stroke="#33ee33" stroke-width="0.7" stroke-dasharray="6.5 4.8"/>
<path d="M361.2 249.2H369.6" stroke="#33ee33" stroke-width="0.8" stroke-dasharray="1.6 3.4"/>
<path d="M362 269.4H369.6" stroke="#33ee33" stroke-width="0.8" stroke-dasharray="5 3"/>
<path d="M359.3 262V271.7" stroke="#22ee22" stroke-width="0.9" stroke-dasharray="1.8 4 4 4"/>
<path d="M128.17 -7.81 L128.42 -6.32 L128.66 -4.83 L128.89 -3.34 L129.13 -1.85 L129.36 -0.36 L129.58 1.14 L129.81 2.63 L130.03 4.13 L130.25 5.62 L130.47 7.11 L130.69 8.61 L130.90 10.10 L131.12 11.60 L131.34 13.09 L131.56 14.59 L131.78 16.08 L132.00 17.58 L132.22 19.07 L132.45 20.56 L132.67 22.06 L132.90 23.55 L133.14 25.04 L133.38 26.53 L133.62 28.02 L133.86 29.51 L134.12 31.00 L134.37 32.49 L134.63 33.98 L134.90 35.46 L135.17 36.95 L135.45 38.43 L135.74 39.92 L136.04 41.40 L136.34 42.88 L136.65 44.36 L136.97 45.83 L137.29 47.31 L137.63 48.78 L137.98 50.25 L138.33 51.72 L138.70 53.18 L139.07 54.65 L139.46 56.11 L139.86 57.56 L140.27 59.02 L140.69 60.47 L141.13 61.91 L141.57 63.36 L142.04 64.79 L142.51 66.23 L143.00 67.66 L143.50 69.08 L144.02 70.50 L144.55 71.91 L145.10 73.32 L145.66 74.72 L146.24 76.12 L146.83 77.51 L147.44 78.89 L148.06 80.27 L148.70 81.64 L149.35 83.00 L150.02 84.35 L150.70 85.70 L151.40 87.04 L152.11 88.37 L152.84 89.70 L153.58 91.01 L154.33 92.32 L155.10 93.62 L155.89 94.91 L156.69 96.19 L157.50 97.46 L158.33 98.73 L159.18 99.98 L160.03 101.22 L160.91 102.46 L161.79 103.68 L162.69 104.89 L163.61 106.09 L164.54 107.28 L165.48 108.46 L166.44 109.63 L167.41 110.79 L168.39 111.93 L169.39 113.07 L170.40 114.19 L171.43 115.30 L172.47 116.39 L173.52 117.47 L174.59 118.54 L175.67 119.60 L176.76 120.64 L177.87 121.67 L178.99 122.68 L180.13 123.68 L181.27 124.66 L182.43 125.63 L183.60 126.58 L184.79 127.52 L185.99 128.44 L187.19 129.34 L188.42 130.23 L189.65 131.10 L190.90 131.96 L192.15 132.79 L193.42 133.61 L194.70 134.41 L196.00 135.20 L197.30 135.96 L198.61 136.70 L199.94 137.43 L201.27 138.14 L202.61 138.83 L203.97 139.50 L205.33 140.15 L206.70 140.78 L208.08 141.39 L209.47 141.98 L210.87 142.56 L212.27 143.12 L213.68 143.66 L215.10 144.19 L216.52 144.70 L217.95 145.19 L219.38 145.67 L220.82 146.13 L222.26 146.57 L223.71 147.00 L225.16 147.42 L226.62 147.82 L228.08 148.20 L229.54 148.58 L231.01 148.93 L232.48 149.28 L233.95 149.61 L235.43 149.93 L236.91 150.24 L238.39 150.54 L239.87 150.82 L241.36 151.10 L242.85 151.36 L244.34 151.61 L245.83 151.85 L247.32 152.08 L248.81 152.30 L250.31 152.51 L251.81 152.71 L253.30 152.90 L254.80 153.09 L256.30 153.26 L257.80 153.43 L259.31 153.58 L260.81 153.73 L262.31 153.88 L263.82 154.01 L265.32 154.14 L266.83 154.26 L268.33 154.37 L269.84 154.48 L271.35 154.58 L272.86 154.68 L274.36 154.77 L275.87 154.85 L277.38 154.93 L278.89 155.00 L280.40 155.07 L281.91 155.13 L283.42 155.19 L284.92 155.24 L286.43 155.29 L287.94 155.34 L289.45 155.38 L290.96 155.41 L292.47 155.44 L293.98 155.47 L295.49 155.50 L297.00 155.52 L298.51 155.54 L300.02 155.55 L301.54 155.57 L303.05 155.58 L304.56 155.58 L306.07 155.59 L307.58 155.59 L309.09 155.59 L310.60 155.59 L312.11 155.59 L313.62 155.58 L315.13 155.58 L316.64 155.57 L318.15 155.56 L319.66 155.55 L321.17 155.54 L322.68 155.53 L324.19 155.52 L325.70 155.51 L327.21 155.50 L328.72 155.49 L330.23 155.48 L331.74 155.47 L333.25 155.46 L334.76 155.45 L336.27 155.45 L337.78 155.44 L339.29 155.44 L340.80 155.44 L342.31 155.44 L343.83 155.44 L345.34 155.44 L346.85 155.45 L348.36 155.46 L349.87 155.47 L351.38 155.48 L352.89 155.50 L354.40 155.52 L355.91 155.55 L357.42 155.57 L358.93 155.61 L360.44 155.64 L361.95 155.68 L363.46 155.72 L364.97 155.77 L366.48 155.83 L367.99 155.88 L369.49 155.95" stroke="#ff4040" stroke-width="0.7" stroke-dasharray="4.5 4.3"/>
<path d="M124.04 -8.12 L124.29 -6.62 L124.54 -5.13 L124.79 -3.64 L125.04 -2.15 L125.30 -0.66 L125.56 0.82 L125.83 2.31 L126.09 3.80 L126.36 5.29 L126.64 6.77 L126.91 8.26 L127.19 9.75 L127.48 11.23 L127.76 12.72 L128.05 14.20 L128.35 15.68 L128.64 17.16 L128.94 18.65 L129.25 20.13 L129.56 21.61 L129.87 23.08 L130.19 24.56 L130.51 26.04 L130.83 27.52 L131.16 28.99 L131.49 30.47 L131.83 31.94 L132.17 33.41 L132.52 34.88 L132.87 36.35 L133.23 37.82 L133.59 39.29 L133.95 40.76 L134.32 42.22 L134.70 43.69 L135.08 45.15 L135.46 46.61 L135.85 48.07 L136.25 49.53 L136.65 50.99 L137.05 52.45 L137.46 53.90 L137.88 55.35 L138.30 56.81 L138.72 58.26 L139.16 59.70 L139.59 61.15 L140.04 62.60 L140.49 64.04 L140.94 65.48 L141.40 66.92 L141.87 68.36 L142.34 69.80 L142.82 71.23 L143.30 72.66 L143.79 74.09 L144.28 75.52 L144.78 76.95 L145.29 78.37 L145.80 79.79 L146.31 81.22 L146.83 82.64 L147.36 84.05 L147.88 85.47 L148.42 86.88 L148.95 88.30 L149.49 89.71 L150.03 91.12 L150.58 92.53 L151.13 93.94 L151.68 95.35 L152.23 96.75 L152.78 98.16 L153.34 99.57 L153.90 100.97 L154.46 102.37 L155.03 103.78 L155.60 105.18 L156.17 106.58 L156.74 107.97 L157.32 109.37 L157.91 110.76 L158.50 112.15 L159.10 113.54 L159.70 114.93 L160.32 116.31 L160.94 117.69 L161.57 119.06 L162.20 120.43 L162.85 121.80 L163.51 123.16 L164.18 124.51 L164.86 125.86 L165.55 127.21 L166.26 128.54 L166.98 129.87 L167.71 131.20 L168.46 132.51 L169.22 133.81 L170.00 135.11 L170.79 136.40 L171.61 137.67 L172.43 138.94 L173.28 140.19 L174.15 141.43 L175.03 142.65 L175.94 143.86 L176.86 145.06 L177.81 146.24 L178.78 147.40 L179.76 148.54 L180.78 149.67 L181.81 150.77 L182.87 151.85 L183.95 152.91 L185.05 153.94 L186.17 154.95 L187.32 155.94 L188.48 156.90 L189.67 157.84 L190.88 158.75 L192.10 159.63 L193.34 160.49 L194.60 161.33 L195.88 162.14 L197.18 162.92 L198.49 163.67 L199.81 164.40 L201.15 165.10 L202.50 165.78 L203.87 166.42 L205.25 167.04 L206.64 167.64 L208.04 168.20 L209.45 168.74 L210.87 169.25 L212.31 169.73 L213.75 170.19 L215.20 170.62 L216.66 171.01 L218.12 171.39 L219.59 171.73 L221.07 172.04 L222.56 172.33 L224.04 172.59 L225.54 172.82 L227.04 173.03 L228.54 173.20 L230.04 173.35 L231.55 173.48 L233.06 173.59 L234.56 173.67 L236.08 173.73 L237.59 173.77 L239.10 173.79 L240.61 173.79 L242.12 173.78 L243.63 173.74 L245.14 173.70 L246.65 173.64 L248.16 173.56 L249.67 173.47 L251.18 173.37 L252.69 173.26 L254.19 173.14 L255.70 173.01 L257.21 172.87 L258.71 172.73 L260.21 172.58 L261.72 172.42 L263.22 172.25 L264.72 172.08 L266.22 171.91 L267.73 171.73 L269.23 171.55 L270.73 171.36 L272.23 171.17 L273.72 170.98 L275.22 170.78 L276.72 170.58 L278.22 170.37 L279.72 170.17 L281.21 169.95 L282.71 169.74 L284.21 169.52 L285.70 169.31 L287.20 169.09 L288.69 168.86 L290.19 168.64 L291.68 168.41 L293.18 168.18 L294.67 167.96 L296.16 167.72 L297.66 167.49 L299.15 167.26 L300.64 167.03 L302.14 166.80 L303.63 166.56 L305.13 166.33 L306.62 166.10 L308.11 165.87 L309.61 165.63 L311.10 165.40 L312.59 165.17 L314.09 164.94 L315.58 164.71 L317.08 164.49 L318.57 164.26 L320.07 164.04 L321.56 163.82 L323.06 163.60 L324.55 163.39 L326.05 163.17 L327.55 162.96 L329.04 162.76 L330.54 162.55 L332.04 162.35 L333.54 162.15 L335.04 161.96 L336.54 161.77 L338.04 161.59 L339.54 161.41 L341.04 161.23 L342.54 161.06 L344.04 160.89 L345.55 160.73 L347.05 160.57 L348.56 160.42 L350.06 160.28 L351.56 160.14 L353.07 160.00 L354.58 159.88 L356.08 159.76 L357.59 159.64 L359.10 159.53 L360.61 159.43 L362.12 159.34 L363.62 159.25 L365.13 159.17 L366.64 159.10 L368.15 159.03 L369.66 158.97" stroke="#ff7070" stroke-width="0.6" stroke-dasharray="1.5 3.3"/>
<path d="M152.56 -7.23 L153.10 -5.84 L153.65 -4.47 L154.22 -3.11 L154.80 -1.75 L155.40 -0.41 L156.01 0.93 L156.64 2.27 L157.29 3.59 L157.95 4.91 L158.63 6.22 L159.32 7.52 L160.03 8.81 L160.76 10.09 L161.50 11.36 L162.26 12.63 L163.03 13.88 L163.82 15.13 L164.62 16.36 L165.44 17.59 L166.27 18.81 L167.12 20.01 L167.98 21.21 L168.86 22.39 L169.75 23.57 L170.66 24.73 L171.57 25.88 L172.51 27.03 L173.45 28.16 L174.41 29.28 L175.39 30.39 L176.37 31.49 L177.37 32.57 L178.38 33.65 L179.40 34.71 L180.44 35.77 L181.49 36.81 L182.55 37.84 L183.62 38.86 L184.70 39.87 L185.79 40.86 L186.89 41.85 L188.01 42.82 L189.13 43.78 L190.26 44.73 L191.41 45.67 L192.56 46.60 L193.73 47.52 L194.90 48.42 L196.08 49.32 L197.27 50.20 L198.47 51.07 L199.68 51.93 L200.89 52.78 L202.11 53.62 L203.35 54.44 L204.59 55.26 L205.83 56.07 L207.09 56.86 L208.35 57.64 L209.61 58.42 L210.89 59.18 L212.17 59.93 L213.46 60.67 L214.75 61.41 L216.05 62.13 L217.36 62.84 L218.67 63.54 L219.99 64.23 L221.31 64.91 L222.64 65.59 L223.97 66.25 L225.31 66.90 L226.65 67.54 L228.00 68.18 L229.35 68.80 L230.71 69.42 L232.07 70.02 L233.43 70.62 L234.80 71.21 L236.18 71.79 L237.56 72.36 L238.94 72.92 L240.32 73.47 L241.71 74.02 L243.11 74.55 L244.50 75.08 L245.90 75.60 L247.30 76.11 L248.71 76.61 L250.12 77.11 L251.53 77.60 L252.94 78.08 L254.36 78.55 L255.78 79.01 L257.21 79.47 L258.63 79.92 L260.06 80.36 L261.49 80.79 L262.92 81.22 L264.36 81.64 L265.79 82.05 L267.23 82.46 L268.68 82.86 L270.12 83.25 L271.57 83.63 L273.01 84.01 L274.46 84.38 L275.92 84.75 L277.37 85.11 L278.82 85.46 L280.28 85.81 L281.74 86.15 L283.20 86.48 L284.66 86.81 L286.13 87.13 L287.59 87.45 L289.06 87.76 L290.52 88.06 L291.99 88.36 L293.46 88.65 L294.94 88.94 L296.41 89.23 L297.88 89.50 L299.36 89.78 L300.83 90.04 L302.31 90.31 L303.79 90.56 L305.27 90.82 L306.75 91.07 L308.23 91.31 L309.71 91.55 L311.19 91.78 L312.68 92.01 L314.16 92.24 L315.65 92.46 L317.13 92.68 L318.62 92.89 L320.11 93.10 L321.60 93.31 L323.09 93.51 L324.58 93.71 L326.07 93.90 L327.56 94.09 L329.05 94.28 L330.54 94.46 L332.04 94.64 L333.53 94.82 L335.02 95.00 L336.52 95.17 L338.01 95.34 L339.51 95.50 L341.01 95.66 L342.50 95.82 L344.00 95.98 L345.50 96.14 L346.99 96.29 L348.49 96.44 L349.99 96.59 L351.49 96.73 L352.99 96.88 L354.49 97.02 L355.99 97.16 L357.49 97.29 L358.99 97.43 L360.49 97.56 L361.99 97.70 L363.50 97.83 L365.00 97.96 L366.50 98.09 L368.00 98.21 L369.51 98.34" stroke="#2040ff" stroke-width="0.9" stroke-dasharray="4.8 4"/>
<path d="M146.69 -4.95 L147.24 -3.53 L147.82 -2.09 L148.41 -0.66 L149.02 0.77 L149.65 2.18 L150.30 3.59 L150.96 4.99 L151.64 6.39 L152.34 7.77 L153.05 9.15 L153.78 10.52 L154.53 11.88 L155.29 13.23 L156.08 14.57 L156.87 15.90 L157.68 17.22 L158.51 18.53 L159.36 19.83 L160.22 21.12 L161.10 22.40 L161.99 23.67 L162.90 24.92 L163.82 26.17 L164.75 27.40 L165.71 28.63 L166.67 29.84 L167.65 31.04 L168.64 32.23 L169.65 33.40 L170.67 34.57 L171.71 35.72 L172.75 36.86 L173.81 37.99 L174.89 39.11 L175.97 40.21 L177.07 41.30 L178.18 42.38 L179.30 43.45 L180.43 44.50 L181.57 45.54 L182.72 46.57 L183.89 47.59 L185.06 48.59 L186.24 49.58 L187.44 50.56 L188.64 51.53 L189.85 52.48 L191.07 53.43 L192.30 54.36 L193.54 55.28 L194.79 56.18 L196.04 57.08 L197.31 57.96 L198.58 58.83 L199.86 59.69 L201.14 60.54 L202.44 61.37 L203.74 62.20 L205.04 63.01 L206.36 63.81 L207.68 64.60 L209.00 65.38 L210.33 66.15 L211.67 66.90 L213.02 67.65 L214.36 68.38 L215.72 69.11 L217.08 69.82 L218.44 70.52 L219.81 71.22 L221.19 71.90 L222.57 72.57 L223.95 73.23 L225.34 73.89 L226.73 74.53 L228.13 75.16 L229.53 75.79 L230.93 76.40 L232.34 77.00 L233.75 77.60 L235.17 78.18 L236.58 78.76 L238.01 79.33 L239.43 79.89 L240.86 80.44 L242.29 80.98 L243.73 81.51 L245.16 82.04 L246.60 82.55 L248.05 83.06 L249.49 83.56 L250.94 84.05 L252.39 84.53 L253.84 85.01 L255.30 85.47 L256.75 85.93 L258.21 86.38 L259.67 86.83 L261.14 87.26 L262.60 87.69 L264.07 88.11 L265.54 88.53 L267.01 88.93 L268.49 89.33 L269.96 89.73 L271.44 90.11 L272.91 90.49 L274.39 90.86 L275.87 91.23 L277.36 91.59 L278.84 91.94 L280.32 92.29 L281.81 92.62 L283.30 92.96 L284.78 93.29 L286.27 93.61 L287.76 93.92 L289.26 94.23 L290.75 94.54 L292.24 94.84 L293.73 95.13 L295.23 95.42 L296.73 95.70 L298.22 95.97 L299.72 96.25 L301.22 96.51 L302.72 96.77 L304.22 97.03 L305.72 97.28 L307.22 97.53 L308.72 97.77 L310.22 98.01 L311.72 98.24 L313.22 98.47 L314.73 98.69 L316.23 98.91 L317.74 99.13 L319.24 99.34 L320.74 99.55 L322.25 99.75 L323.75 99.95 L325.26 100.15 L326.77 100.34 L328.27 100.53 L329.78 100.72 L331.29 100.90 L332.79 101.08 L334.30 101.25 L335.81 101.43 L337.31 101.60 L338.82 101.76 L340.33 101.93 L341.84 102.09 L343.35 102.25 L344.85 102.40 L346.36 102.56 L347.87 102.71 L349.38 102.86 L350.89 103.00 L352.39 103.15 L353.90 103.29 L355.41 103.43 L356.92 103.57 L358.43 103.71 L359.93 103.84 L361.44 103.97 L362.95 104.11 L364.46 104.24 L365.97 104.36 L367.47 104.49 L368.98 104.62" stroke="#2040ff" stroke-width="0.9" stroke-dasharray="1.5 3.6"/>
<path d="M151.36 -7.94 L151.47 -6.43 L151.58 -4.92 L151.71 -3.42 L151.84 -1.91 L151.99 -0.41 L152.14 1.10 L152.30 2.60 L152.47 4.10 L152.65 5.60 L152.83 7.10 L153.02 8.60 L153.23 10.10 L153.44 11.59 L153.66 13.09 L153.88 14.58 L154.12 16.07 L154.36 17.57 L154.61 19.06 L154.87 20.54 L155.14 22.03 L155.42 23.52 L155.70 25.00 L155.99 26.48 L156.29 27.96 L156.60 29.44 L156.92 30.92 L157.24 32.40 L157.58 33.87 L157.92 35.34 L158.27 36.81 L158.62 38.28 L158.99 39.74 L159.36 41.21 L159.75 42.67 L160.14 44.13 L160.53 45.59 L160.94 47.04 L161.36 48.50 L161.78 49.95 L162.21 51.40 L162.65 52.84 L163.09 54.28 L163.55 55.73 L164.01 57.16 L164.48 58.60 L164.96 60.03 L165.45 61.46 L165.95 62.89 L166.45 64.31 L166.96 65.73 L167.48 67.15 L168.01 68.57 L168.55 69.98 L169.10 71.39 L169.65 72.80 L170.21 74.20 L170.78 75.60 L171.36 76.99 L171.95 78.39 L172.54 79.78 L173.14 81.16 L173.76 82.54 L174.38 83.92 L175.00 85.29 L175.64 86.66 L176.29 88.03 L176.94 89.39 L177.60 90.75 L178.27 92.11 L178.95 93.46 L179.64 94.80 L180.33 96.14 L181.04 97.48 L181.75 98.81 L182.47 100.14 L183.20 101.46 L183.94 102.78 L184.69 104.09 L185.44 105.40 L186.21 106.71 L186.98 108.00 L187.76 109.30 L188.55 110.59 L189.35 111.87 L190.16 113.15 L190.97 114.42 L191.80 115.68 L192.63 116.94 L193.47 118.20 L194.32 119.45 L195.18 120.69 L196.05 121.93 L196.93 123.16 L197.81 124.38 L198.71 125.60 L199.61 126.81 L200.52 128.01 L201.44 129.21 L202.37 130.40 L203.31 131.59 L204.26 132.76 L205.21 133.93 L206.18 135.10 L207.15 136.25 L208.14 137.40 L209.13 138.54 L210.13 139.68 L211.13 140.80 L212.15 141.92 L213.18 143.03 L214.21 144.13 L215.26 145.22 L216.31 146.31 L217.37 147.38 L218.44 148.45 L219.51 149.51 L220.60 150.56 L221.70 151.60 L222.80 152.63 L223.91 153.65 L225.03 154.67 L226.16 155.67 L227.30 156.67 L228.44 157.65 L229.60 158.63 L230.76 159.59 L231.93 160.55 L233.11 161.49 L234.30 162.43 L235.49 163.35 L236.69 164.27 L237.91 165.17 L239.12 166.06 L240.35 166.95 L241.58 167.82 L242.83 168.68 L244.08 169.53 L245.33 170.37 L246.60 171.20 L247.87 172.02 L249.14 172.82 L250.43 173.62 L251.72 174.40 L253.02 175.18 L254.32 175.94 L255.63 176.69 L256.95 177.43 L258.27 178.16 L259.60 178.88 L260.93 179.59 L262.27 180.29 L263.62 180.97 L264.97 181.65 L266.33 182.31 L267.69 182.96 L269.06 183.60 L270.44 184.23 L271.81 184.85 L273.20 185.46 L274.59 186.05 L275.98 186.64 L277.38 187.21 L278.78 187.77 L280.19 188.32 L281.60 188.86 L283.02 189.38 L284.44 189.90 L285.86 190.40 L287.29 190.89 L288.73 191.37 L290.16 191.84 L291.60 192.29 L293.05 192.74 L294.50 193.17 L295.95 193.59 L297.40 194.00 L298.86 194.39 L300.32 194.78 L301.79 195.15 L303.25 195.51 L304.72 195.86 L306.20 196.19 L307.67 196.52 L309.15 196.83 L310.63 197.13 L312.12 197.41 L313.60 197.69 L315.09 197.95 L316.58 198.20 L318.07 198.43 L319.57 198.66 L321.06 198.87 L322.56 199.07 L324.06 199.25 L325.56 199.42 L327.06 199.58 L328.57 199.73 L330.07 199.87 L331.58 199.99 L333.09 200.09 L334.59 200.19 L336.10 200.27 L337.61 200.34 L339.12 200.40 L340.63 200.44 L342.14 200.47 L343.65 200.48 L345.16 200.49 L343.66 200.48 L345.14 200.49 L346.60 200.29 L348.05 199.77 L349.44 199.07 L350.74 198.33 L352.02 197.51 L353.22 196.50 L354.15 195.38 L354.80 194.13 L355.34 192.73 L355.80 191.24 L356.16 189.73 L356.43 188.26 L356.67 186.79 L356.89 185.31 L357.09 183.82 L357.26 182.32 L357.40 180.82 L357.52 179.32 L357.61 177.82 L357.69 176.32 L357.77 174.83 L357.84 173.33 L357.91 171.84 L357.98 170.34 L358.04 168.84 L358.10 167.34 L358.16 165.84 L358.21 164.34 L358.26 162.84 L358.30 161.34 L358.34 159.84 L358.38 158.34 L358.41 156.83 L358.44 155.33 L358.46 153.83 L358.48 152.33 L358.49 150.83 L358.50 149.33 L358.51 147.83 L358.52 146.33 L358.53 144.83 L358.54 143.33 L358.55 141.84 L358.55 140.34 L358.56 138.84 L358.57 137.34 L358.58 135.84 L358.59 134.34 L358.59 132.84 L358.60 131.34 L358.61 129.84 L358.61 128.34 L358.62 126.84 L358.63 125.34 L358.63 123.84 L358.64 122.34 L358.65 120.84 L358.65 119.34 L358.66 117.84 L358.66 116.34 L358.67 114.84 L358.68 113.34 L358.68 111.84 L358.69 110.34 L358.69 108.84 L358.70 107.34 L358.70 105.84 L358.71 104.34 L358.71 102.84 L358.71 101.34 L358.72 99.84 L358.72 98.34 L358.73 96.84 L358.73 95.34 L358.73 93.84 L358.74 92.34 L358.74 90.84 L358.75 89.34 L358.75 87.84 L358.75 86.34 L358.76 84.84 L358.76 83.34 L358.76 81.84 L358.76 80.34 L358.77 78.84 L358.77 77.34 L358.77 75.84 L358.77 74.34 L358.78 72.84 L358.78 71.34 L358.78 69.84 L358.78 68.34 L358.78 66.84 L358.79 65.34 L358.79 63.84 L358.79 62.34 L358.79 60.84 L358.79 59.34 L358.79 57.84 L358.79 56.34 L358.80 54.84 L358.80 53.34 L358.80 51.84 L358.80 50.34 L358.80 48.84 L358.80 47.34 L358.80 45.84 L358.80 44.34 L358.80 42.83 L358.80 41.33 L358.80 39.83 L358.80 39.00" stroke="#383838" stroke-width="0.85" stroke-dasharray="3 5.3"/>
<path d="M147.13 -8.18 L147.30 -6.68 L147.48 -5.18 L147.67 -3.68 L147.85 -2.19 L148.05 -0.69 L148.24 0.81 L148.44 2.30 L148.65 3.80 L148.86 5.29 L149.07 6.78 L149.29 8.28 L149.51 9.77 L149.73 11.26 L149.96 12.75 L150.20 14.24 L150.44 15.73 L150.68 17.22 L150.93 18.71 L151.18 20.20 L151.43 21.69 L151.70 23.17 L151.96 24.66 L152.23 26.14 L152.51 27.63 L152.78 29.11 L153.07 30.59 L153.35 32.07 L153.65 33.55 L153.94 35.03 L154.25 36.51 L154.55 37.99 L154.86 39.47 L155.18 40.94 L155.50 42.42 L155.82 43.89 L156.15 45.36 L156.48 46.83 L156.82 48.30 L157.16 49.77 L157.50 51.24 L157.85 52.71 L158.21 54.18 L158.57 55.64 L158.93 57.11 L159.30 58.57 L159.67 60.03 L160.05 61.50 L160.43 62.96 L160.81 64.41 L161.20 65.87 L161.59 67.33 L161.99 68.79 L162.39 70.24 L162.79 71.69 L163.20 73.15 L163.61 74.60 L164.03 76.05 L164.45 77.50 L164.87 78.95 L165.30 80.39 L165.73 81.84 L166.17 83.28 L166.61 84.73 L167.05 86.17 L167.50 87.61 L167.95 89.05 L168.41 90.49 L168.88 91.92 L169.34 93.36 L169.82 94.79 L170.30 96.22 L170.79 97.65 L171.28 99.07 L171.78 100.50 L172.29 101.92 L172.80 103.34 L173.32 104.75 L173.85 106.17 L174.38 107.58 L174.93 108.99 L175.48 110.39 L176.04 111.79 L176.60 113.19 L177.18 114.59 L177.77 115.98 L178.36 117.36 L178.97 118.74 L179.58 120.12 L180.20 121.50 L180.84 122.87 L181.48 124.23 L182.14 125.59 L182.81 126.94 L183.48 128.29 L184.17 129.63 L184.87 130.97 L185.59 132.30 L186.31 133.62 L187.05 134.94 L187.80 136.25 L188.56 137.55 L189.34 138.84 L190.13 140.13 L190.93 141.41 L191.75 142.68 L192.58 143.93 L193.43 145.18 L194.29 146.42 L195.17 147.65 L196.06 148.87 L196.96 150.07 L197.89 151.27 L198.82 152.45 L199.78 153.62 L200.75 154.78 L201.73 155.92 L202.73 157.05 L203.75 158.16 L204.79 159.26 L205.84 160.34 L206.91 161.41 L207.99 162.45 L209.09 163.49 L210.21 164.50 L211.35 165.49 L212.50 166.47 L213.66 167.43 L214.85 168.36 L216.04 169.28 L217.26 170.18 L218.48 171.06 L219.72 171.92 L220.97 172.77 L222.24 173.59 L223.51 174.40 L224.80 175.19 L226.09 175.96 L227.40 176.72 L228.71 177.46 L230.04 178.18 L231.37 178.89 L232.71 179.58 L234.06 180.25 L235.42 180.92 L236.78 181.56 L238.15 182.20 L239.53 182.82 L240.91 183.42 L242.30 184.01 L243.69 184.59 L245.09 185.16 L246.49 185.71 L247.90 186.26 L249.31 186.79 L250.73 187.31 L252.15 187.82 L253.57 188.31 L255.00 188.80 L256.43 189.28 L257.87 189.75 L259.30 190.21 L260.74 190.66 L262.19 191.10 L263.63 191.53 L265.08 191.95 L266.53 192.37 L267.98 192.78 L269.44 193.18 L270.89 193.57 L272.35 193.96 L273.81 194.34 L275.28 194.71 L276.74 195.08 L278.20 195.44 L279.67 195.79 L281.14 196.14 L282.61 196.49 L284.08 196.82 L285.55 197.16 L287.02 197.48 L288.50 197.81 L289.97 198.12 L291.45 198.44 L292.93 198.75 L294.40 199.05 L295.88 199.35 L297.36 199.65 L298.84 199.94 L300.32 200.23 L301.81 200.51 L303.29 200.79 L304.77 201.07 L306.26 201.34 L307.74 201.62 L309.22 201.89 L310.71 202.15 L312.19 202.42 L313.68 202.68 L315.17 202.94 L316.65 203.20 L318.14 203.46 L319.63 203.71 L321.11 203.97 L322.60 204.22 L324.09 204.48 L325.58 204.73 L327.06 204.98 L328.55 205.23 L330.04 205.49 L331.53 205.74 L333.02 205.99 L334.50 206.24 L335.99 206.50 L337.48 206.75 L338.96 207.01 L340.45 207.26 L341.94 207.52 L343.42 207.78 L344.91 208.04 L343.41 207.88 L344.89 208.04 L346.40 208.02 L347.92 207.95 L349.42 207.84 L350.88 207.69 L352.37 207.28 L353.77 206.55 L354.81 205.68 L355.62 204.44 L356.27 202.97 L356.74 201.54 L357.12 200.10 L357.44 198.63 L357.71 197.14 L357.92 195.64 L358.09 194.15 L358.25 192.67 L358.39 191.17 L358.51 189.68 L358.63 188.18 L358.72 186.68 L358.81 185.18 L358.87 183.68 L358.93 182.18 L358.98 180.68 L359.03 179.18 L359.08 177.69 L359.13 176.19 L359.17 174.69 L359.22 173.19 L359.26 171.69 L359.30 170.19 L359.33 168.69 L359.37 167.19 L359.40 165.69 L359.43 164.19 L359.46 162.69 L359.48 161.19 L359.51 159.69 L359.53 158.19 L359.55 156.69 L359.56 155.19 L359.58 153.69 L359.59 152.19 L359.60 150.69 L359.60 149.19 L359.61 147.69 L359.61 146.19 L359.62 144.69 L359.63 143.19 L359.63 141.69 L359.64 140.19 L359.64 138.69 L359.65 137.19 L359.65 135.69 L359.66 134.19 L359.66 132.69 L359.67 131.19 L359.67 129.69 L359.68 128.19 L359.68 126.69 L359.68 125.19 L359.69 123.69 L359.69 122.19 L359.70 120.69 L359.70 119.19 L359.70 117.69 L359.71 116.19 L359.71 114.69 L359.72 113.19 L359.72 111.69 L359.72 110.19 L359.73 108.69 L359.73 107.19 L359.73 105.69 L359.74 104.19 L359.74 102.69 L359.74 101.19 L359.74 99.69 L359.75 98.19 L359.75 96.69 L359.75 95.19 L359.76 93.69 L359.76 92.19 L359.76 90.69 L359.76 89.19 L359.77 87.69 L359.77 86.19 L359.77 84.69 L359.77 83.19 L359.77 81.69 L359.78 80.19 L359.78 78.69 L359.78 77.19 L359.78 75.69 L359.78 74.19 L359.78 72.69 L359.79 71.19 L359.79 69.69 L359.79 68.19 L359.79 66.69 L359.79 65.19 L359.79 63.69 L359.79 62.19 L359.79 60.69 L359.79 59.19 L359.80 57.69 L359.80 56.19 L359.80 54.69 L359.80 53.19 L359.80 51.69 L359.80 50.19 L359.80 48.69 L359.80 47.19 L359.80 45.69 L359.80 44.19 L359.80 42.69 L359.80 41.19 L359.80 39.69 L359.80 39.00" stroke="#383838" stroke-width="0.85" stroke-dasharray="3 5.3"/>
<path d="M361.5 216.5H369.4" stroke="#606060" stroke-width="0.7" stroke-dasharray="1.6 3.4"/>
<path d="M361.7 227.3H368.3" stroke="#707070" stroke-width="0.8"/>
<path d="M359.3 24V39" stroke="#9a9a9a" stroke-width="0.7" stroke-dasharray="3 1.2"/>
<path d="M86.26 218.54 L87.77 218.60 L89.28 218.67 L90.79 218.74 L92.30 218.81 L93.81 218.88 L95.31 218.95 L96.82 219.03 L98.33 219.10 L99.84 219.18 L101.35 219.26 L102.85 219.35 L104.36 219.43 L105.87 219.51 L107.38 219.60 L108.88 219.69 L110.39 219.78 L111.90 219.87 L113.40 219.97 L114.91 220.06 L116.42 220.16 L117.92 220.26 L119.43 220.35 L120.94 220.46 L122.44 220.56 L123.95 220.66 L125.46 220.77 L126.96 220.87 L128.47 220.98 L129.98 221.09 L131.48 221.20 L132.99 221.31 L134.49 221.43 L136.00 221.54 L137.50 221.66 L139.01 221.78 L140.51 221.89 L142.02 222.01 L143.52 222.14 L145.03 222.26 L146.53 222.38 L148.04 222.51 L149.54 222.63 L151.05 222.76 L152.55 222.89 L154.06 223.02 L155.56 223.15 L157.07 223.28 L158.57 223.41 L160.07 223.54 L161.58 223.68 L163.08 223.81 L164.59 223.95 L166.09 224.09 L167.59 224.23 L169.10 224.37 L170.60 224.51 L172.10 224.65 L173.61 224.79 L175.11 224.93 L176.61 225.08 L178.12 225.22 L179.62 225.37 L181.12 225.52 L182.62 225.66 L184.13 225.81 L185.63 225.96 L187.13 226.11 L188.63 226.26 L190.14 226.41 L191.64 226.56 L193.14 226.72 L194.64 226.87 L196.15 227.02 L197.65 227.18 L199.15 227.33 L200.65 227.49 L202.15 227.64 L203.65 227.80 L205.16 227.96 L206.66 228.12 L208.16 228.27 L209.66 228.43 L211.16 228.59 L212.66 228.75 L214.17 228.91 L215.67 229.07 L217.17 229.24 L218.67 229.40 L220.17 229.56 L221.67 229.72 L223.17 229.89 L224.67 230.05 L226.17 230.21 L227.68 230.38 L229.18 230.54 L230.68 230.70 L232.18 230.87 L233.68 231.03 L235.18 231.20 L236.68 231.37 L238.18 231.53 L239.68 231.70 L241.18 231.86 L242.68 232.03 L244.19 232.20 L245.69 232.36 L247.19 232.53 L248.69 232.69 L250.19 232.86 L251.69 233.03 L253.19 233.20 L254.69 233.36 L256.19 233.53 L257.69 233.70 L259.19 233.86 L260.69 234.03 L262.19 234.20 L263.69 234.36 L265.20 234.53 L266.70 234.70 L268.20 234.86 L269.70 235.03 L271.20 235.19 L272.70 235.36 L274.20 235.53 L275.70 235.69 L277.20 235.86 L278.70 236.02 L280.20 236.19 L281.70 236.35 L283.21 236.52 L284.71 236.68 L286.21 236.84 L287.71 237.01 L289.21 237.17 L290.71 237.33 L292.21 237.49 L293.71 237.66 L295.21 237.82 L296.72 237.98 L298.22 238.14 L299.72 238.30 L301.22 238.46 L302.72 238.62 L304.22 238.78 L305.73 238.93 L307.23 239.09 L308.73 239.25 L310.23 239.40 L311.73 239.56 L313.23 239.72 L314.74 239.87 L316.24 240.02 L317.74 240.18 L319.24 240.33 L320.74 240.48 L322.25 240.63 L323.75 240.78 L325.25 240.93 L326.75 241.08 L328.26 241.23 L329.76 241.38 L331.26 241.52 L332.77 241.67 L334.27 241.82 L335.77 241.96 L337.28 242.10 L338.78 242.25 L340.28 242.39 L341.78 242.53 L343.29 242.67 L341.78 242.59 L343.27 242.67 L344.77 242.61 L346.28 242.44 L347.78 242.19 L349.24 241.88 L350.67 241.50 L352.09 240.85 L353.29 240.01 L354.22 238.93 L355.01 237.59 L355.66 236.17 L356.16 234.78 L356.58 233.33 L356.93 231.86 L357.21 230.39 L357.45 228.91 L357.66 227.42 L357.83 225.92 L357.94 224.43 L358.02 222.93 L358.10 221.44 L358.16 219.94 L358.22 218.44 L358.27 216.94 L358.32 215.44 L358.37 213.94 L358.42 212.44 L358.48 210.94 L358.54 209.44 L358.60 207.94 L358.66 206.44 L358.71 204.94 L358.77 203.44 L358.82 201.94 L358.87 200.44 L358.91 198.95 L358.95 197.45 L358.98 195.95 L359.01 194.45 L359.03 192.95 L359.05 191.45 L359.07 189.95 L359.10 188.45 L359.12 186.95 L359.14 185.45 L359.16 183.95 L359.18 182.45 L359.19 180.95 L359.21 179.45 L359.23 177.95 L359.25 176.45 L359.26 174.95 L359.28 173.45 L359.29 171.95 L359.30 170.45 L359.32 168.95 L359.33 167.45 L359.34 165.95 L359.35 164.45 L359.36 162.95 L359.37 161.45 L359.38 159.95 L359.38 158.45 L359.39 156.95 L359.39 155.45 L359.40 153.95 L359.40 152.45 L359.40 150.95 L359.40 149.45 L359.40 147.95 L359.40 146.45 L359.40 144.95 L359.40 143.45 L359.40 141.95 L359.40 140.45 L359.40 138.95 L359.40 137.45 L359.40 135.95 L359.40 134.45 L359.40 132.95 L359.40 131.45 L359.40 129.95 L359.40 128.45 L359.40 126.95 L359.40 125.45 L359.40 123.95 L359.40 122.45 L359.40 120.95 L359.40 119.45 L359.40 117.95 L359.40 116.45 L359.40 114.95 L359.40 113.45 L359.40 111.95 L359.40 110.45 L359.40 108.95 L359.40 107.45 L359.40 105.95 L359.40 104.45 L359.40 102.95 L359.40 101.45 L359.40 99.95 L359.40 98.45 L359.40 96.95 L359.40 95.45 L359.40 93.95 L359.40 92.45 L359.40 90.95 L359.40 89.45 L359.40 87.95 L359.40 86.45 L359.40 84.95 L359.40 83.45 L359.40 81.95 L359.40 80.45 L359.40 78.95 L359.40 77.45 L359.40 75.95 L359.40 74.45 L359.40 72.95 L359.40 71.45 L359.40 69.95 L359.40 68.45 L359.40 66.95 L359.40 65.45 L359.40 63.95 L359.40 62.45 L359.40 60.95 L359.40 59.45 L359.40 57.95 L359.40 56.45 L359.40 54.95 L359.40 53.45 L359.40 51.95 L359.40 50.45 L359.40 48.95 L359.40 47.45 L359.40 45.95 L359.40 44.45 L359.40 42.95 L359.40 41.45 L359.40 39.95 L359.40 39.00" stroke="#00f000" stroke-width="2.3"/>
<path d="M359.7 39V260.2" stroke="#00f000" stroke-width="1.8"/>
<path d="M358.8 260.2H369.6" stroke="#00f000" stroke-width="2.3"/>
<path d="M131.61 -8.00 L131.84 -6.51 L132.08 -5.02 L132.32 -3.52 L132.55 -2.03 L132.79 -0.54 L133.03 0.95 L133.26 2.44 L133.50 3.93 L133.74 5.42 L133.98 6.91 L134.22 8.41 L134.47 9.90 L134.71 11.39 L134.95 12.88 L135.20 14.37 L135.45 15.86 L135.70 17.35 L135.95 18.83 L136.20 20.32 L136.46 21.81 L136.72 23.30 L136.98 24.79 L137.24 26.27 L137.50 27.76 L137.77 29.25 L138.04 30.73 L138.32 32.22 L138.60 33.70 L138.88 35.18 L139.16 36.67 L139.45 38.15 L139.74 39.63 L140.03 41.11 L140.33 42.59 L140.64 44.07 L140.94 45.55 L141.26 47.03 L141.57 48.51 L141.89 49.98 L142.22 51.46 L142.55 52.93 L142.88 54.40 L143.22 55.87 L143.57 57.34 L143.92 58.81 L144.27 60.28 L144.63 61.75 L145.00 63.21 L145.37 64.68 L145.75 66.14 L146.13 67.60 L146.52 69.06 L146.92 70.51 L147.32 71.97 L147.73 73.42 L148.14 74.88 L148.56 76.33 L148.99 77.77 L149.42 79.22 L149.87 80.66 L150.31 82.11 L150.77 83.55 L151.23 84.98 L151.70 86.42 L152.18 87.85 L152.67 89.28 L153.17 90.70 L153.68 92.13 L154.20 93.54 L154.73 94.96 L155.27 96.37 L155.82 97.78 L156.38 99.18 L156.95 100.58 L157.53 101.97 L158.13 103.35 L158.74 104.74 L159.36 106.11 L160.00 107.48 L160.65 108.85 L161.31 110.20 L161.99 111.55 L162.68 112.89 L163.38 114.23 L164.10 115.56 L164.84 116.88 L165.59 118.19 L166.35 119.49 L167.13 120.79 L167.92 122.07 L168.73 123.34 L169.56 124.61 L170.40 125.86 L171.26 127.10 L172.13 128.34 L173.03 129.55 L173.93 130.76 L174.86 131.95 L175.80 133.13 L176.76 134.30 L177.74 135.45 L178.74 136.58 L179.75 137.70 L180.79 138.80 L181.84 139.88 L182.91 140.95 L184.00 141.99 L185.11 143.02 L186.24 144.02 L187.39 145.00 L188.56 145.96 L189.74 146.89 L190.95 147.80 L192.17 148.69 L193.41 149.55 L194.67 150.38 L195.95 151.19 L197.24 151.97 L198.54 152.73 L199.86 153.47 L201.19 154.18 L202.54 154.87 L203.90 155.53 L205.26 156.17 L206.64 156.78 L208.03 157.37 L209.43 157.94 L210.84 158.49 L212.25 159.02 L213.68 159.52 L215.11 160.00 L216.55 160.46 L217.99 160.90 L219.44 161.33 L220.90 161.73 L222.36 162.11 L223.82 162.47 L225.29 162.82 L226.77 163.14 L228.25 163.45 L229.73 163.75 L231.21 164.02 L232.70 164.28 L234.19 164.52 L235.68 164.75 L237.18 164.96 L238.68 165.16 L240.17 165.34 L241.68 165.51 L243.18 165.67 L244.68 165.81 L246.19 165.94 L247.69 166.05 L249.20 166.16 L250.70 166.25 L252.21 166.33 L253.72 166.39 L255.23 166.45 L256.74 166.50 L258.25 166.53 L259.76 166.55 L261.27 166.57 L262.78 166.57 L264.29 166.57 L265.80 166.55 L267.31 166.53 L268.82 166.49 L270.33 166.45 L271.84 166.40 L273.35 166.34 L274.86 166.27 L276.36 166.20 L277.87 166.12 L279.38 166.03 L280.89 165.93 L282.39 165.83 L283.90 165.72 L285.40 165.61 L286.91 165.49 L288.41 165.36 L289.92 165.23 L291.42 165.09 L292.93 164.95 L294.43 164.81 L295.93 164.66 L297.43 164.51 L298.94 164.35 L300.44 164.19 L301.94 164.03 L303.44 163.86 L304.94 163.69 L306.44 163.52 L307.94 163.35 L309.44 163.18 L310.94 163.01 L312.44 162.83 L313.94 162.65 L315.44 162.48 L316.94 162.30 L318.44 162.13 L319.94 161.95 L321.44 161.78 L322.94 161.60 L324.44 161.43 L325.94 161.26 L327.44 161.09 L328.94 160.92 L330.44 160.76 L331.95 160.60 L333.45 160.44 L334.95 160.28 L336.45 160.13 L337.96 159.98 L339.46 159.84 L340.96 159.70 L342.47 159.57 L343.97 159.44 L345.48 159.31 L346.98 159.20 L348.49 159.08 L349.99 158.98 L351.50 158.88 L353.01 158.79 L354.52 158.70 L356.02 158.62 L357.53 158.55 L359.04 158.49 L360.55 158.43 L362.06 158.39 L363.57 158.35 L365.08 158.32 L366.59 158.30 L368.10 158.29 L369.61 158.29" stroke="#ff0000" stroke-width="2.5"/>
<path d="M149.77 -6.15 L150.31 -4.74 L150.87 -3.34 L151.45 -1.94 L152.05 -0.55 L152.66 0.83 L153.29 2.20 L153.94 3.57 L154.60 4.92 L155.28 6.27 L155.97 7.61 L156.68 8.95 L157.41 10.27 L158.16 11.58 L158.92 12.89 L159.69 14.18 L160.48 15.47 L161.29 16.75 L162.12 18.01 L162.95 19.27 L163.81 20.52 L164.68 21.75 L165.56 22.98 L166.46 24.19 L167.37 25.39 L168.30 26.59 L169.24 27.77 L170.19 28.94 L171.16 30.10 L172.15 31.24 L173.14 32.38 L174.15 33.50 L175.17 34.62 L176.21 35.72 L177.25 36.81 L178.31 37.88 L179.38 38.95 L180.47 40.00 L181.56 41.04 L182.66 42.07 L183.78 43.09 L184.91 44.10 L186.04 45.09 L187.19 46.07 L188.35 47.04 L189.52 48.00 L190.69 48.95 L191.88 49.88 L193.08 50.81 L194.28 51.72 L195.49 52.62 L196.72 53.50 L197.95 54.38 L199.18 55.25 L200.43 56.10 L201.68 56.94 L202.95 57.77 L204.21 58.59 L205.49 59.40 L206.77 60.20 L208.06 60.98 L209.36 61.76 L210.66 62.53 L211.97 63.28 L213.28 64.02 L214.61 64.76 L215.93 65.48 L217.26 66.19 L218.60 66.89 L219.94 67.59 L221.29 68.27 L222.64 68.94 L224.00 69.60 L225.36 70.25 L226.73 70.90 L228.10 71.53 L229.48 72.15 L230.86 72.77 L232.24 73.37 L233.63 73.97 L235.02 74.55 L236.42 75.13 L237.82 75.70 L239.22 76.26 L240.63 76.81 L242.04 77.35 L243.45 77.89 L244.86 78.41 L246.28 78.93 L247.71 79.44 L249.13 79.94 L250.56 80.43 L251.99 80.92 L253.42 81.40 L254.86 81.87 L256.30 82.33 L257.74 82.78 L259.18 83.23 L260.63 83.67 L262.07 84.10 L263.52 84.52 L264.97 84.94 L266.43 85.35 L267.88 85.75 L269.34 86.15 L270.80 86.53 L272.26 86.92 L273.73 87.29 L275.19 87.66 L276.66 88.02 L278.13 88.38 L279.59 88.73 L281.07 89.07 L282.54 89.41 L284.01 89.74 L285.49 90.06 L286.96 90.38 L288.44 90.69 L289.92 91.00 L291.40 91.30 L292.88 91.60 L294.36 91.89 L295.85 92.17 L297.33 92.45 L298.82 92.73 L300.30 93.00 L301.79 93.26 L303.28 93.52 L304.77 93.78 L306.26 94.02 L307.75 94.27 L309.24 94.51 L310.73 94.75 L312.22 94.98 L313.72 95.20 L315.21 95.43 L316.70 95.65 L318.20 95.86 L319.70 96.07 L321.19 96.28 L322.69 96.48 L324.19 96.68 L325.68 96.88 L327.18 97.07 L328.68 97.26 L330.18 97.44 L331.68 97.62 L333.18 97.80 L334.68 97.98 L336.18 98.15 L337.68 98.32 L339.18 98.48 L340.68 98.65 L342.19 98.81 L343.69 98.96 L345.19 99.12 L346.69 99.27 L348.20 99.42 L349.70 99.57 L351.20 99.72 L352.71 99.86 L354.21 100.00 L355.71 100.14 L357.22 100.28 L358.72 100.42 L360.23 100.55 L361.73 100.69 L363.24 100.82 L364.74 100.95 L366.25 101.08 L367.75 101.20 L369.26 101.33" stroke="#0000ff" stroke-width="2.5"/>
<path d="M148.48 -7.53 L148.71 -6.04 L148.95 -4.55 L149.18 -3.06 L149.42 -1.57 L149.66 -0.08 L149.90 1.41 L150.15 2.90 L150.39 4.39 L150.64 5.88 L150.90 7.37 L151.15 8.86 L151.41 10.34 L151.67 11.83 L151.93 13.32 L152.20 14.80 L152.47 16.29 L152.74 17.77 L153.01 19.26 L153.29 20.74 L153.57 22.22 L153.86 23.71 L154.15 25.19 L154.44 26.67 L154.74 28.15 L155.04 29.63 L155.34 31.11 L155.65 32.58 L155.97 34.06 L156.28 35.54 L156.60 37.01 L156.93 38.49 L157.26 39.96 L157.59 41.43 L157.93 42.90 L158.27 44.37 L158.62 45.84 L158.98 47.31 L159.33 48.78 L159.70 50.24 L160.06 51.71 L160.44 53.17 L160.82 54.63 L161.20 56.09 L161.59 57.55 L161.98 59.01 L162.38 60.46 L162.79 61.92 L163.20 63.37 L163.62 64.82 L164.04 66.27 L164.47 67.71 L164.91 69.16 L165.35 70.60 L165.80 72.05 L166.25 73.48 L166.72 74.92 L167.18 76.36 L167.66 77.79 L168.14 79.22 L168.63 80.65 L169.12 82.08 L169.63 83.50 L170.14 84.92 L170.65 86.34 L171.18 87.75 L171.71 89.17 L172.25 90.58 L172.80 91.98 L173.36 93.39 L173.92 94.79 L174.49 96.18 L175.07 97.58 L175.66 98.97 L176.26 100.35 L176.86 101.74 L177.47 103.12 L178.10 104.49 L178.73 105.86 L179.37 107.23 L180.02 108.59 L180.67 109.95 L181.34 111.31 L182.02 112.66 L182.70 114.00 L183.40 115.34 L184.11 116.68 L184.82 118.00 L185.55 119.33 L186.28 120.65 L187.03 121.96 L187.78 123.27 L188.55 124.57 L189.32 125.86 L190.11 127.15 L190.90 128.44 L191.71 129.71 L192.53 130.98 L193.36 132.24 L194.20 133.50 L195.05 134.75 L195.91 135.99 L196.78 137.22 L197.66 138.44 L198.56 139.66 L199.46 140.87 L200.38 142.07 L201.31 143.26 L202.24 144.44 L203.19 145.61 L204.16 146.77 L205.13 147.93 L206.11 149.07 L207.11 150.21 L208.12 151.33 L209.14 152.45 L210.17 153.55 L211.21 154.64 L212.26 155.72 L213.33 156.79 L214.40 157.85 L215.49 158.90 L216.59 159.94 L217.70 160.96 L218.82 161.97 L219.95 162.97 L221.09 163.96 L222.24 164.94 L223.40 165.90 L224.57 166.86 L225.75 167.80 L226.94 168.72 L228.14 169.64 L229.35 170.54 L230.57 171.43 L231.80 172.31 L233.04 173.17 L234.29 174.02 L235.55 174.85 L236.81 175.68 L238.09 176.48 L239.37 177.28 L240.67 178.06 L241.97 178.82 L243.28 179.58 L244.59 180.31 L245.92 181.04 L247.25 181.74 L248.59 182.44 L249.94 183.11 L251.30 183.78 L252.66 184.42 L254.03 185.06 L255.41 185.67 L256.79 186.28 L258.18 186.87 L259.58 187.44 L260.98 188.01 L262.39 188.56 L263.80 189.09 L265.21 189.62 L266.63 190.13 L268.06 190.63 L269.49 191.12 L270.92 191.59 L272.36 192.06 L273.80 192.51 L275.24 192.95 L276.68 193.39 L278.13 193.81 L279.59 194.22 L281.04 194.63 L282.50 195.02 L283.96 195.41 L285.42 195.78 L286.88 196.15 L288.35 196.51 L289.82 196.87 L291.29 197.21 L292.76 197.55 L294.23 197.88 L295.70 198.21 L297.18 198.52 L298.66 198.84 L300.14 199.14 L301.62 199.44 L303.10 199.73 L304.58 200.02 L306.06 200.31 L307.54 200.58 L309.03 200.86 L310.51 201.12 L312.00 201.39 L313.49 201.65 L314.98 201.90 L316.46 202.15 L317.95 202.40 L319.44 202.65 L320.93 202.89 L322.42 203.13 L323.92 203.37 L325.41 203.60 L326.90 203.83 L328.39 204.06 L329.88 204.29 L331.37 204.52 L332.87 204.74 L334.36 204.97 L335.85 205.19 L337.35 205.41 L338.84 205.64 L340.33 205.86 L341.83 206.08 L343.32 206.30 L344.81 206.53 L343.31 206.39 L344.79 206.53 L346.30 206.49 L347.83 206.38 L349.33 206.22 L350.77 206.00 L352.21 205.52 L353.53 204.70 L354.53 203.70 L355.33 202.38 L355.92 200.98 L356.39 199.57 L356.78 198.11 L357.09 196.62 L357.33 195.15 L357.54 193.67 L357.71 192.18 L357.87 190.68 L358.00 189.18 L358.12 187.69 L358.24 186.19 L358.35 184.70 L358.46 183.20 L358.56 181.70 L358.64 180.20 L358.72 178.70 L358.78 177.20 L358.83 175.71 L358.87 174.21 L358.90 172.71 L358.93 171.21 L358.95 169.71 L358.98 168.21 L359.00 166.71 L359.02 165.21 L359.04 163.71 L359.06 162.21 L359.08 160.71 L359.09 159.21 L359.11 157.71 L359.12 156.21 L359.13 154.71 L359.14 153.21 L359.14 151.71 L359.15 150.21 L359.15 148.71 L359.16 147.21 L359.16 145.71 L359.17 144.21 L359.17 142.71 L359.17 141.21 L359.18 139.71 L359.18 138.21 L359.19 136.71 L359.19 135.21 L359.19 133.71 L359.20 132.21 L359.20 130.71 L359.20 129.21 L359.21 127.71 L359.21 126.21 L359.21 124.71 L359.22 123.21 L359.22 121.71 L359.22 120.21 L359.23 118.71 L359.23 117.21 L359.23 115.71 L359.23 114.21 L359.24 112.71 L359.24 111.21 L359.24 109.71 L359.25 108.21 L359.25 106.71 L359.25 105.21 L359.25 103.71 L359.25 102.21 L359.26 100.71 L359.26 99.21 L359.26 97.71 L359.26 96.21 L359.27 94.71 L359.27 93.21 L359.27 91.71 L359.27 90.21 L359.27 88.71 L359.27 87.21 L359.28 85.71 L359.28 84.21 L359.28 82.71 L359.28 81.21 L359.28 79.71 L359.28 78.21 L359.28 76.71 L359.29 75.21 L359.29 73.71 L359.29 72.21 L359.29 70.71 L359.29 69.21 L359.29 67.71 L359.29 66.21 L359.29 64.71 L359.29 63.21 L359.29 61.71 L359.30 60.21 L359.30 58.71 L359.30 57.21 L359.30 55.71 L359.30 54.21 L359.30 52.71 L359.30 51.21 L359.30 49.71 L359.30 48.21 L359.30 46.71 L359.30 45.21 L359.30 43.71 L359.30 42.21 L359.30 40.71 L359.30 39.21 L359.30 39.00" stroke="#000" stroke-width="2.4"/>
<path d="M359.6 39V224.3" stroke="#000" stroke-width="2.0"/>
<path d="M358.45 224.3H369.6" stroke="#000" stroke-width="2.4"/>
</g>
<path d="M85.64 295.30V291.00M85.64 0.40V4.70M103.32 295.30V292.70M103.32 0.40V3.00M121.00 295.30V292.70M121.00 0.40V3.00M138.69 295.30V292.70M138.69 0.40V3.00M156.37 295.30V291.00M156.37 0.40V4.70M174.05 295.30V292.70M174.05 0.40V3.00M191.74 295.30V292.70M191.74 0.40V3.00M209.42 295.30V292.70M209.42 0.40V3.00M227.10 295.30V291.00M227.10 0.40V4.70M244.78 295.30V292.70M244.78 0.40V3.00M262.47 295.30V292.70M262.47 0.40V3.00M280.15 295.30V292.70M280.15 0.40V3.00M297.83 295.30V291.00M297.83 0.40V4.70M315.51 295.30V292.70M315.51 0.40V3.00M333.19 295.30V292.70M333.19 0.40V3.00M350.88 295.30V292.70M350.88 0.40V3.00M368.56 295.30V291.00M368.56 0.40V4.70M80.05 284.83H82.65M374.70 284.83H372.10M80.05 274.30H84.35M374.70 274.30H370.40M80.05 263.77H82.65M374.70 263.77H372.10M80.05 253.24H82.65M374.70 253.24H372.10M80.05 242.71H82.65M374.70 242.71H372.10M80.05 232.18H84.35M374.70 232.18H370.40M80.05 221.65H82.65M374.70 221.65H372.10M80.05 211.12H82.65M374.70 211.12H372.10M80.05 200.59H82.65M374.70 200.59H372.10M80.05 190.05H84.35M374.70 190.05H370.40M80.05 179.52H82.65M374.70 179.52H372.10M80.05 168.99H82.65M374.70 168.99H372.10M80.05 158.46H82.65M374.70 158.46H372.10M80.05 147.93H84.35M374.70 147.93H370.40M80.05 137.40H82.65M374.70 137.40H372.10M80.05 126.87H82.65M374.70 126.87H372.10M80.05 116.34H82.65M374.70 116.34H372.10M80.05 105.81H84.35M374.70 105.81H370.40M80.05 95.28H82.65M374.70 95.28H372.10M80.05 84.74H82.65M374.70 84.74H372.10M80.05 74.21H82.65M374.70 74.21H372.10M80.05 63.68H84.35M374.70 63.68H370.40M80.05 53.15H82.65M374.70 53.15H372.10M80.05 42.62H82.65M374.70 42.62H372.10M80.05 32.09H82.65M374.70 32.09H372.10M80.05 21.56H84.35M374.70 21.56H370.40M80.05 11.03H82.65M374.70 11.03H372.10" stroke="#000" stroke-width="1.3" fill="none"/>
<rect x="80.05" y="0.40" width="294.65" height="294.90" fill="none" stroke="#000" stroke-width="1.7"/>
<line x1="101.4" y1="242.4" x2="122.2" y2="242.4" stroke="#0000ff" stroke-width="2.5"/>
<text x="130.2" y="247.2" font-size="16">7<tspan font-style="italic">A</tspan>eff</text>
<line x1="101.4" y1="274.6" x2="122.2" y2="274.6" stroke="#ff0000" stroke-width="2.5"/>
<text x="130.2" y="279.6" font-size="16">7<tspan font-style="italic">B</tspan>eff</text>
<line x1="181.0" y1="242.4" x2="201.8" y2="242.4" stroke="#00f000" stroke-width="2.5"/>
<text x="209.2" y="247.2" font-size="16" textLength="23.2" lengthAdjust="spacingAndGlyphs">9eff</text>
<line x1="181.0" y1="274.6" x2="201.8" y2="274.6" stroke="#000000" stroke-width="2.5"/>
<text x="209.4" y="279.6" font-size="16" textLength="18.6" lengthAdjust="spacingAndGlyphs">All</text>
<text x="75.8" y="282.9" font-size="18.2" text-anchor="end">0.6</text>
<line x1="41.6" y1="278.0" x2="50.4" y2="278.0" stroke="#111" stroke-width="1"/>
<text x="75.8" y="240.8" font-size="18.2" text-anchor="end">0.4</text>
<line x1="41.6" y1="235.9" x2="50.4" y2="235.9" stroke="#111" stroke-width="1"/>
<text x="75.8" y="198.7" font-size="18.2" text-anchor="end">0.2</text>
<line x1="41.6" y1="193.8" x2="50.4" y2="193.8" stroke="#111" stroke-width="1"/>
<text x="75.8" y="156.5" font-size="18.2" text-anchor="end">0.0</text>
<text x="75.8" y="114.4" font-size="18.2" text-anchor="end">0.2</text>
<text x="75.8" y="72.3" font-size="18.2" text-anchor="end">0.4</text>
<text x="75.8" y="30.2" font-size="18.2" text-anchor="end">0.6</text>
<text x="85.6" y="320.9" font-size="18.2" text-anchor="middle">0</text>
<text x="156.4" y="320.9" font-size="18.2" text-anchor="middle">2</text>
<text x="227.1" y="320.9" font-size="18.2" text-anchor="middle">4</text>
<text x="297.8" y="320.9" font-size="18.2" text-anchor="middle">6</text>
<text x="368.6" y="320.9" font-size="18.2" text-anchor="middle">8</text>
<g transform="translate(24.3 204) rotate(-90)">
<text x="-0.2" y="0.2" font-size="21.5" textLength="12" lengthAdjust="spacingAndGlyphs">R</text>
<text x="12.6" y="0.2" font-size="21.5">e</text>
<text x="24.9" y="0.8" font-size="24" font-style="italic" textLength="17.5" lengthAdjust="spacingAndGlyphs" stroke="#fff" stroke-width="0.5">A</text>
<line x1="20.7" y1="-17" x2="40.7" y2="-17" stroke="#111" stroke-width="1"/>
<text x="41.3" y="5.2" font-size="14.5" font-style="italic" textLength="19.6" lengthAdjust="spacingAndGlyphs">LV</text>
<text x="40.2" y="-12.6" font-size="14.2" textLength="38.8" lengthAdjust="spacingAndGlyphs">(<tspan font-style="italic">i</tspan>,LP)</text>
<text x="81.6" y="-0.4" font-size="23">(</text>
<text x="88.1" y="0.3" font-size="22" font-style="italic">q</text>
<text x="97.8" y="-9.4" font-size="13.5">2</text>
<text x="104.2" y="-0.4" font-size="23">)</text>
</g>
</svg>
</body></html>
